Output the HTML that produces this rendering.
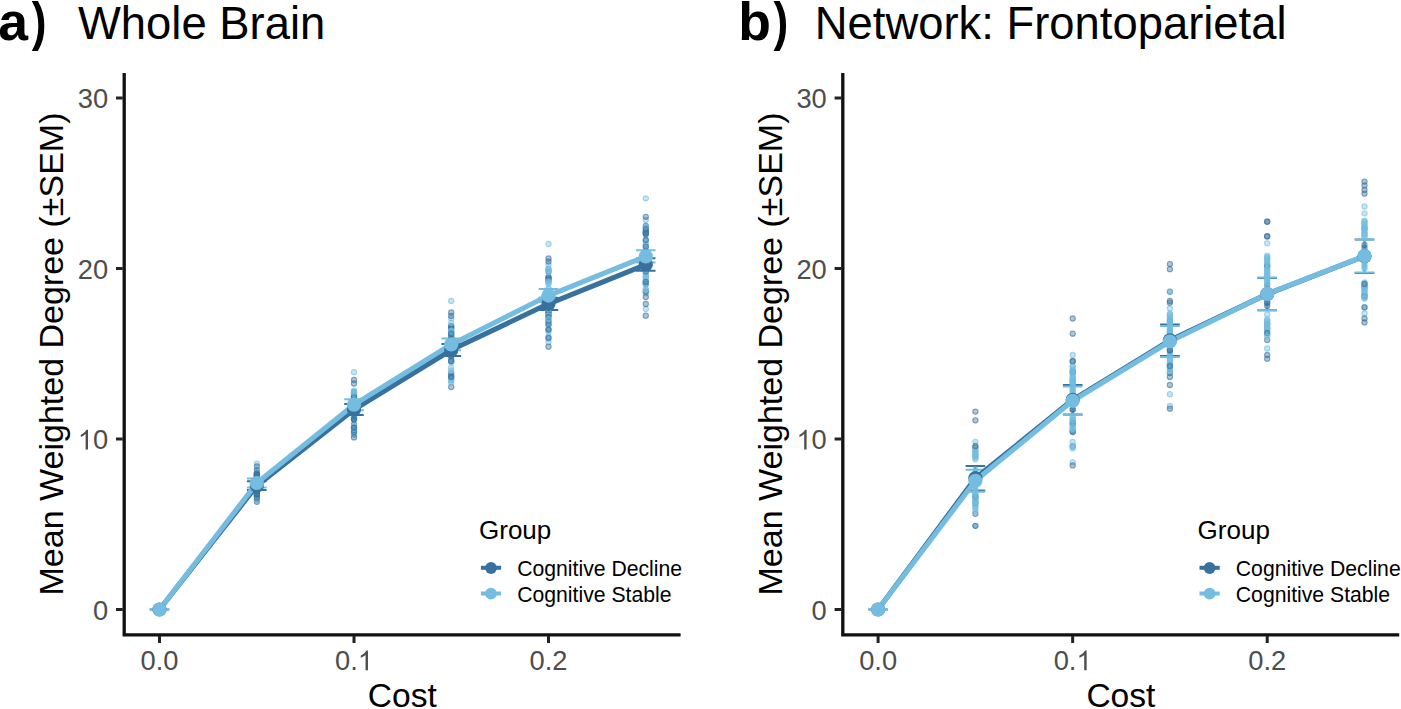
<!DOCTYPE html>
<html><head><meta charset="utf-8"><title>Figure</title>
<style>html,body{margin:0;padding:0;background:#fff;overflow:hidden}svg{display:block}text{font-family:"Liberation Sans",sans-serif}</style>
</head><body>
<svg width="1401" height="709" viewBox="0 0 1401 709">
<rect width="1401" height="709" fill="#ffffff"/>
<g>
<text x="-1.80" y="40.4" font-family="Liberation Sans, sans-serif" font-size="53.5" font-weight="bold" fill="#000">a</text>
<text transform="translate(44.9 0) scale(0.83 1) translate(-44.9 0)" x="28.95" y="40.4" font-family="Liberation Sans, sans-serif" font-size="53.5" font-weight="bold" fill="#000">)</text>
<text x="78.0" y="39.3" font-family="Liberation Sans, sans-serif" font-size="45.4" fill="#000">Whole Brain</text>
<path d="M149.7 609.5H169.3M149.7 609.5H169.3M159.5 609.5V609.5" stroke="#38719D" stroke-width="2" fill="none"/>
<path d="M246.9 481.3H266.6M246.9 490.1H266.6M256.8 481.3V490.1" stroke="#38719D" stroke-width="2" fill="none"/>
<path d="M344.2 404.0H363.8M344.2 415.0H363.8M354.0 404.0V415.0" stroke="#38719D" stroke-width="2" fill="none"/>
<path d="M441.4 344.0H461.1M441.4 356.0H461.1M451.2 344.0V356.0" stroke="#38719D" stroke-width="2" fill="none"/>
<path d="M538.7 297.7H558.3M538.7 309.9H558.3M548.5 297.7V309.9" stroke="#38719D" stroke-width="2" fill="none"/>
<path d="M636.0 258.3H655.5M636.0 270.8H655.5M645.8 258.3V270.8" stroke="#38719D" stroke-width="2" fill="none"/>
<path d="M149.7 609.5H169.3M149.7 609.5H169.3M159.5 609.5V609.5" stroke="#74BDE0" stroke-width="2" fill="none"/>
<path d="M246.9 478.6H266.6M246.9 487.4H266.6M256.8 478.6V487.4" stroke="#74BDE0" stroke-width="2" fill="none"/>
<path d="M344.2 399.3H363.8M344.2 410.2H363.8M354.0 399.3V410.2" stroke="#74BDE0" stroke-width="2" fill="none"/>
<path d="M441.4 338.4H461.1M441.4 350.3H461.1M451.2 338.4V350.3" stroke="#74BDE0" stroke-width="2" fill="none"/>
<path d="M538.7 289.1H558.3M538.7 302.1H558.3M548.5 289.1V302.1" stroke="#74BDE0" stroke-width="2" fill="none"/>
<path d="M636.0 250.3H655.5M636.0 262.5H655.5M645.8 250.3V262.5" stroke="#74BDE0" stroke-width="2" fill="none"/>
<g stroke-width="1.05">
<circle cx="256.8" cy="475.8" r="2.62" fill="#38719D" fill-opacity="0.4" stroke="#38719D" stroke-opacity="0.62"/>
<circle cx="256.8" cy="487.7" r="2.62" fill="#38719D" fill-opacity="0.4" stroke="#38719D" stroke-opacity="0.62"/>
<circle cx="256.8" cy="478.8" r="2.62" fill="#38719D" fill-opacity="0.4" stroke="#38719D" stroke-opacity="0.62"/>
<circle cx="256.8" cy="481.3" r="2.62" fill="#74BDE0" fill-opacity="0.4" stroke="#74BDE0" stroke-opacity="0.62"/>
<circle cx="256.8" cy="474.9" r="2.62" fill="#74BDE0" fill-opacity="0.4" stroke="#74BDE0" stroke-opacity="0.62"/>
<circle cx="256.8" cy="501.8" r="2.62" fill="#38719D" fill-opacity="0.4" stroke="#38719D" stroke-opacity="0.62"/>
<circle cx="256.8" cy="488.9" r="2.62" fill="#74BDE0" fill-opacity="0.4" stroke="#74BDE0" stroke-opacity="0.62"/>
<circle cx="256.8" cy="482.0" r="2.62" fill="#74BDE0" fill-opacity="0.4" stroke="#74BDE0" stroke-opacity="0.62"/>
<circle cx="256.8" cy="482.0" r="2.62" fill="#38719D" fill-opacity="0.4" stroke="#38719D" stroke-opacity="0.62"/>
<circle cx="256.8" cy="477.8" r="2.62" fill="#74BDE0" fill-opacity="0.4" stroke="#74BDE0" stroke-opacity="0.62"/>
<circle cx="256.8" cy="477.1" r="2.62" fill="#38719D" fill-opacity="0.4" stroke="#38719D" stroke-opacity="0.62"/>
<circle cx="256.8" cy="477.5" r="2.62" fill="#74BDE0" fill-opacity="0.4" stroke="#74BDE0" stroke-opacity="0.62"/>
<circle cx="256.8" cy="479.0" r="2.62" fill="#74BDE0" fill-opacity="0.4" stroke="#74BDE0" stroke-opacity="0.62"/>
<circle cx="256.8" cy="474.8" r="2.62" fill="#38719D" fill-opacity="0.4" stroke="#38719D" stroke-opacity="0.62"/>
<circle cx="256.8" cy="476.2" r="2.62" fill="#38719D" fill-opacity="0.4" stroke="#38719D" stroke-opacity="0.62"/>
<circle cx="256.8" cy="499.4" r="2.62" fill="#38719D" fill-opacity="0.4" stroke="#38719D" stroke-opacity="0.62"/>
<circle cx="256.8" cy="493.8" r="2.62" fill="#38719D" fill-opacity="0.4" stroke="#38719D" stroke-opacity="0.62"/>
<circle cx="256.8" cy="488.0" r="2.62" fill="#74BDE0" fill-opacity="0.4" stroke="#74BDE0" stroke-opacity="0.62"/>
<circle cx="256.8" cy="495.5" r="2.62" fill="#74BDE0" fill-opacity="0.4" stroke="#74BDE0" stroke-opacity="0.62"/>
<circle cx="256.8" cy="484.6" r="2.62" fill="#38719D" fill-opacity="0.4" stroke="#38719D" stroke-opacity="0.62"/>
<circle cx="256.8" cy="491.9" r="2.62" fill="#74BDE0" fill-opacity="0.4" stroke="#74BDE0" stroke-opacity="0.62"/>
<circle cx="256.8" cy="491.9" r="2.62" fill="#74BDE0" fill-opacity="0.4" stroke="#74BDE0" stroke-opacity="0.62"/>
<circle cx="256.8" cy="472.7" r="2.62" fill="#74BDE0" fill-opacity="0.4" stroke="#74BDE0" stroke-opacity="0.62"/>
<circle cx="256.8" cy="480.6" r="2.62" fill="#38719D" fill-opacity="0.4" stroke="#38719D" stroke-opacity="0.62"/>
<circle cx="256.8" cy="470.1" r="2.62" fill="#38719D" fill-opacity="0.4" stroke="#38719D" stroke-opacity="0.62"/>
<circle cx="256.8" cy="474.7" r="2.62" fill="#74BDE0" fill-opacity="0.4" stroke="#74BDE0" stroke-opacity="0.62"/>
<circle cx="256.8" cy="495.4" r="2.62" fill="#38719D" fill-opacity="0.4" stroke="#38719D" stroke-opacity="0.62"/>
<circle cx="256.8" cy="473.8" r="2.62" fill="#38719D" fill-opacity="0.4" stroke="#38719D" stroke-opacity="0.62"/>
<circle cx="256.8" cy="478.7" r="2.62" fill="#38719D" fill-opacity="0.4" stroke="#38719D" stroke-opacity="0.62"/>
<circle cx="256.8" cy="463.6" r="2.62" fill="#74BDE0" fill-opacity="0.4" stroke="#74BDE0" stroke-opacity="0.62"/>
<circle cx="256.8" cy="473.1" r="2.62" fill="#74BDE0" fill-opacity="0.4" stroke="#74BDE0" stroke-opacity="0.62"/>
<circle cx="256.8" cy="488.8" r="2.62" fill="#74BDE0" fill-opacity="0.4" stroke="#74BDE0" stroke-opacity="0.62"/>
<circle cx="256.8" cy="483.3" r="2.62" fill="#38719D" fill-opacity="0.4" stroke="#38719D" stroke-opacity="0.62"/>
<circle cx="256.8" cy="480.2" r="2.62" fill="#38719D" fill-opacity="0.4" stroke="#38719D" stroke-opacity="0.62"/>
<circle cx="256.8" cy="491.8" r="2.62" fill="#74BDE0" fill-opacity="0.4" stroke="#74BDE0" stroke-opacity="0.62"/>
<circle cx="256.8" cy="485.2" r="2.62" fill="#38719D" fill-opacity="0.4" stroke="#38719D" stroke-opacity="0.62"/>
<circle cx="256.8" cy="479.8" r="2.62" fill="#74BDE0" fill-opacity="0.4" stroke="#74BDE0" stroke-opacity="0.62"/>
<circle cx="256.8" cy="485.4" r="2.62" fill="#74BDE0" fill-opacity="0.4" stroke="#74BDE0" stroke-opacity="0.62"/>
<circle cx="256.8" cy="488.3" r="2.62" fill="#38719D" fill-opacity="0.4" stroke="#38719D" stroke-opacity="0.62"/>
<circle cx="256.8" cy="485.6" r="2.62" fill="#38719D" fill-opacity="0.4" stroke="#38719D" stroke-opacity="0.62"/>
<circle cx="256.8" cy="489.3" r="2.62" fill="#74BDE0" fill-opacity="0.4" stroke="#74BDE0" stroke-opacity="0.62"/>
<circle cx="256.8" cy="500.0" r="2.62" fill="#74BDE0" fill-opacity="0.4" stroke="#74BDE0" stroke-opacity="0.62"/>
<circle cx="256.8" cy="481.8" r="2.62" fill="#74BDE0" fill-opacity="0.4" stroke="#74BDE0" stroke-opacity="0.62"/>
<circle cx="256.8" cy="478.6" r="2.62" fill="#74BDE0" fill-opacity="0.4" stroke="#74BDE0" stroke-opacity="0.62"/>
<circle cx="256.8" cy="487.7" r="2.62" fill="#38719D" fill-opacity="0.4" stroke="#38719D" stroke-opacity="0.62"/>
<circle cx="256.8" cy="480.5" r="2.62" fill="#74BDE0" fill-opacity="0.4" stroke="#74BDE0" stroke-opacity="0.62"/>
<circle cx="256.8" cy="493.4" r="2.62" fill="#38719D" fill-opacity="0.4" stroke="#38719D" stroke-opacity="0.62"/>
<circle cx="256.8" cy="479.4" r="2.62" fill="#38719D" fill-opacity="0.4" stroke="#38719D" stroke-opacity="0.62"/>
<circle cx="256.8" cy="496.0" r="2.62" fill="#74BDE0" fill-opacity="0.4" stroke="#74BDE0" stroke-opacity="0.62"/>
<circle cx="256.8" cy="490.6" r="2.62" fill="#74BDE0" fill-opacity="0.4" stroke="#74BDE0" stroke-opacity="0.62"/>
<circle cx="256.8" cy="494.2" r="2.62" fill="#38719D" fill-opacity="0.4" stroke="#38719D" stroke-opacity="0.62"/>
<circle cx="256.8" cy="497.4" r="2.62" fill="#38719D" fill-opacity="0.4" stroke="#38719D" stroke-opacity="0.62"/>
<circle cx="256.8" cy="479.8" r="2.62" fill="#74BDE0" fill-opacity="0.4" stroke="#74BDE0" stroke-opacity="0.62"/>
<circle cx="256.8" cy="477.0" r="2.62" fill="#74BDE0" fill-opacity="0.4" stroke="#74BDE0" stroke-opacity="0.62"/>
<circle cx="256.8" cy="494.7" r="2.62" fill="#38719D" fill-opacity="0.4" stroke="#38719D" stroke-opacity="0.62"/>
<circle cx="256.8" cy="466.5" r="2.62" fill="#38719D" fill-opacity="0.4" stroke="#38719D" stroke-opacity="0.62"/>
<circle cx="256.8" cy="475.0" r="2.62" fill="#38719D" fill-opacity="0.4" stroke="#38719D" stroke-opacity="0.62"/>
<circle cx="256.8" cy="474.8" r="2.62" fill="#38719D" fill-opacity="0.4" stroke="#38719D" stroke-opacity="0.62"/>
<circle cx="256.8" cy="473.4" r="2.62" fill="#38719D" fill-opacity="0.4" stroke="#38719D" stroke-opacity="0.62"/>
<circle cx="256.8" cy="490.9" r="2.62" fill="#38719D" fill-opacity="0.4" stroke="#38719D" stroke-opacity="0.62"/>
<circle cx="354.0" cy="393.7" r="2.62" fill="#74BDE0" fill-opacity="0.4" stroke="#74BDE0" stroke-opacity="0.62"/>
<circle cx="354.0" cy="392.2" r="2.62" fill="#38719D" fill-opacity="0.4" stroke="#38719D" stroke-opacity="0.62"/>
<circle cx="354.0" cy="410.5" r="2.62" fill="#38719D" fill-opacity="0.4" stroke="#38719D" stroke-opacity="0.62"/>
<circle cx="354.0" cy="397.5" r="2.62" fill="#38719D" fill-opacity="0.4" stroke="#38719D" stroke-opacity="0.62"/>
<circle cx="354.0" cy="431.4" r="2.62" fill="#74BDE0" fill-opacity="0.4" stroke="#74BDE0" stroke-opacity="0.62"/>
<circle cx="354.0" cy="407.0" r="2.62" fill="#74BDE0" fill-opacity="0.4" stroke="#74BDE0" stroke-opacity="0.62"/>
<circle cx="354.0" cy="424.4" r="2.62" fill="#38719D" fill-opacity="0.4" stroke="#38719D" stroke-opacity="0.62"/>
<circle cx="354.0" cy="411.5" r="2.62" fill="#74BDE0" fill-opacity="0.4" stroke="#74BDE0" stroke-opacity="0.62"/>
<circle cx="354.0" cy="427.0" r="2.62" fill="#74BDE0" fill-opacity="0.4" stroke="#74BDE0" stroke-opacity="0.62"/>
<circle cx="354.0" cy="434.0" r="2.62" fill="#74BDE0" fill-opacity="0.4" stroke="#74BDE0" stroke-opacity="0.62"/>
<circle cx="354.0" cy="395.0" r="2.62" fill="#74BDE0" fill-opacity="0.4" stroke="#74BDE0" stroke-opacity="0.62"/>
<circle cx="354.0" cy="409.2" r="2.62" fill="#38719D" fill-opacity="0.4" stroke="#38719D" stroke-opacity="0.62"/>
<circle cx="354.0" cy="397.3" r="2.62" fill="#74BDE0" fill-opacity="0.4" stroke="#74BDE0" stroke-opacity="0.62"/>
<circle cx="354.0" cy="418.8" r="2.62" fill="#74BDE0" fill-opacity="0.4" stroke="#74BDE0" stroke-opacity="0.62"/>
<circle cx="354.0" cy="405.2" r="2.62" fill="#74BDE0" fill-opacity="0.4" stroke="#74BDE0" stroke-opacity="0.62"/>
<circle cx="354.0" cy="415.9" r="2.62" fill="#38719D" fill-opacity="0.4" stroke="#38719D" stroke-opacity="0.62"/>
<circle cx="354.0" cy="408.6" r="2.62" fill="#74BDE0" fill-opacity="0.4" stroke="#74BDE0" stroke-opacity="0.62"/>
<circle cx="354.0" cy="434.8" r="2.62" fill="#74BDE0" fill-opacity="0.4" stroke="#74BDE0" stroke-opacity="0.62"/>
<circle cx="354.0" cy="412.2" r="2.62" fill="#38719D" fill-opacity="0.4" stroke="#38719D" stroke-opacity="0.62"/>
<circle cx="354.0" cy="409.6" r="2.62" fill="#38719D" fill-opacity="0.4" stroke="#38719D" stroke-opacity="0.62"/>
<circle cx="354.0" cy="392.9" r="2.62" fill="#74BDE0" fill-opacity="0.4" stroke="#74BDE0" stroke-opacity="0.62"/>
<circle cx="354.0" cy="392.5" r="2.62" fill="#74BDE0" fill-opacity="0.4" stroke="#74BDE0" stroke-opacity="0.62"/>
<circle cx="354.0" cy="417.6" r="2.62" fill="#38719D" fill-opacity="0.4" stroke="#38719D" stroke-opacity="0.62"/>
<circle cx="354.0" cy="396.3" r="2.62" fill="#38719D" fill-opacity="0.4" stroke="#38719D" stroke-opacity="0.62"/>
<circle cx="354.0" cy="406.6" r="2.62" fill="#38719D" fill-opacity="0.4" stroke="#38719D" stroke-opacity="0.62"/>
<circle cx="354.0" cy="417.6" r="2.62" fill="#38719D" fill-opacity="0.4" stroke="#38719D" stroke-opacity="0.62"/>
<circle cx="354.0" cy="394.5" r="2.62" fill="#74BDE0" fill-opacity="0.4" stroke="#74BDE0" stroke-opacity="0.62"/>
<circle cx="354.0" cy="418.1" r="2.62" fill="#38719D" fill-opacity="0.4" stroke="#38719D" stroke-opacity="0.62"/>
<circle cx="354.0" cy="434.0" r="2.62" fill="#74BDE0" fill-opacity="0.4" stroke="#74BDE0" stroke-opacity="0.62"/>
<circle cx="354.0" cy="429.8" r="2.62" fill="#38719D" fill-opacity="0.4" stroke="#38719D" stroke-opacity="0.62"/>
<circle cx="354.0" cy="401.2" r="2.62" fill="#74BDE0" fill-opacity="0.4" stroke="#74BDE0" stroke-opacity="0.62"/>
<circle cx="354.0" cy="407.9" r="2.62" fill="#38719D" fill-opacity="0.4" stroke="#38719D" stroke-opacity="0.62"/>
<circle cx="354.0" cy="425.9" r="2.62" fill="#74BDE0" fill-opacity="0.4" stroke="#74BDE0" stroke-opacity="0.62"/>
<circle cx="354.0" cy="413.6" r="2.62" fill="#38719D" fill-opacity="0.4" stroke="#38719D" stroke-opacity="0.62"/>
<circle cx="354.0" cy="383.5" r="2.62" fill="#38719D" fill-opacity="0.4" stroke="#38719D" stroke-opacity="0.62"/>
<circle cx="354.0" cy="417.8" r="2.62" fill="#74BDE0" fill-opacity="0.4" stroke="#74BDE0" stroke-opacity="0.62"/>
<circle cx="354.0" cy="401.5" r="2.62" fill="#74BDE0" fill-opacity="0.4" stroke="#74BDE0" stroke-opacity="0.62"/>
<circle cx="354.0" cy="416.2" r="2.62" fill="#38719D" fill-opacity="0.4" stroke="#38719D" stroke-opacity="0.62"/>
<circle cx="354.0" cy="402.4" r="2.62" fill="#38719D" fill-opacity="0.4" stroke="#38719D" stroke-opacity="0.62"/>
<circle cx="354.0" cy="417.8" r="2.62" fill="#74BDE0" fill-opacity="0.4" stroke="#74BDE0" stroke-opacity="0.62"/>
<circle cx="354.0" cy="372.2" r="2.62" fill="#74BDE0" fill-opacity="0.4" stroke="#74BDE0" stroke-opacity="0.62"/>
<circle cx="354.0" cy="399.4" r="2.62" fill="#74BDE0" fill-opacity="0.4" stroke="#74BDE0" stroke-opacity="0.62"/>
<circle cx="354.0" cy="394.0" r="2.62" fill="#74BDE0" fill-opacity="0.4" stroke="#74BDE0" stroke-opacity="0.62"/>
<circle cx="354.0" cy="410.4" r="2.62" fill="#38719D" fill-opacity="0.4" stroke="#38719D" stroke-opacity="0.62"/>
<circle cx="354.0" cy="404.8" r="2.62" fill="#38719D" fill-opacity="0.4" stroke="#38719D" stroke-opacity="0.62"/>
<circle cx="354.0" cy="409.5" r="2.62" fill="#38719D" fill-opacity="0.4" stroke="#38719D" stroke-opacity="0.62"/>
<circle cx="354.0" cy="431.9" r="2.62" fill="#38719D" fill-opacity="0.4" stroke="#38719D" stroke-opacity="0.62"/>
<circle cx="354.0" cy="380.0" r="2.62" fill="#38719D" fill-opacity="0.4" stroke="#38719D" stroke-opacity="0.62"/>
<circle cx="354.0" cy="411.7" r="2.62" fill="#38719D" fill-opacity="0.4" stroke="#38719D" stroke-opacity="0.62"/>
<circle cx="354.0" cy="428.0" r="2.62" fill="#38719D" fill-opacity="0.4" stroke="#38719D" stroke-opacity="0.62"/>
<circle cx="354.0" cy="399.8" r="2.62" fill="#74BDE0" fill-opacity="0.4" stroke="#74BDE0" stroke-opacity="0.62"/>
<circle cx="354.0" cy="396.7" r="2.62" fill="#38719D" fill-opacity="0.4" stroke="#38719D" stroke-opacity="0.62"/>
<circle cx="354.0" cy="437.4" r="2.62" fill="#38719D" fill-opacity="0.4" stroke="#38719D" stroke-opacity="0.62"/>
<circle cx="354.0" cy="418.9" r="2.62" fill="#38719D" fill-opacity="0.4" stroke="#38719D" stroke-opacity="0.62"/>
<circle cx="354.0" cy="413.2" r="2.62" fill="#74BDE0" fill-opacity="0.4" stroke="#74BDE0" stroke-opacity="0.62"/>
<circle cx="354.0" cy="390.7" r="2.62" fill="#74BDE0" fill-opacity="0.4" stroke="#74BDE0" stroke-opacity="0.62"/>
<circle cx="354.0" cy="419.8" r="2.62" fill="#38719D" fill-opacity="0.4" stroke="#38719D" stroke-opacity="0.62"/>
<circle cx="354.0" cy="428.8" r="2.62" fill="#74BDE0" fill-opacity="0.4" stroke="#74BDE0" stroke-opacity="0.62"/>
<circle cx="354.0" cy="427.7" r="2.62" fill="#38719D" fill-opacity="0.4" stroke="#38719D" stroke-opacity="0.62"/>
<circle cx="354.0" cy="392.0" r="2.62" fill="#74BDE0" fill-opacity="0.4" stroke="#74BDE0" stroke-opacity="0.62"/>
<circle cx="354.0" cy="401.2" r="2.62" fill="#38719D" fill-opacity="0.4" stroke="#38719D" stroke-opacity="0.62"/>
<circle cx="451.2" cy="344.4" r="2.62" fill="#38719D" fill-opacity="0.4" stroke="#38719D" stroke-opacity="0.62"/>
<circle cx="451.2" cy="348.8" r="2.62" fill="#74BDE0" fill-opacity="0.4" stroke="#74BDE0" stroke-opacity="0.62"/>
<circle cx="451.2" cy="346.7" r="2.62" fill="#74BDE0" fill-opacity="0.4" stroke="#74BDE0" stroke-opacity="0.62"/>
<circle cx="451.2" cy="378.8" r="2.62" fill="#74BDE0" fill-opacity="0.4" stroke="#74BDE0" stroke-opacity="0.62"/>
<circle cx="451.2" cy="350.4" r="2.62" fill="#74BDE0" fill-opacity="0.4" stroke="#74BDE0" stroke-opacity="0.62"/>
<circle cx="451.2" cy="346.3" r="2.62" fill="#38719D" fill-opacity="0.4" stroke="#38719D" stroke-opacity="0.62"/>
<circle cx="451.2" cy="336.9" r="2.62" fill="#74BDE0" fill-opacity="0.4" stroke="#74BDE0" stroke-opacity="0.62"/>
<circle cx="451.2" cy="350.7" r="2.62" fill="#38719D" fill-opacity="0.4" stroke="#38719D" stroke-opacity="0.62"/>
<circle cx="451.2" cy="333.8" r="2.62" fill="#38719D" fill-opacity="0.4" stroke="#38719D" stroke-opacity="0.62"/>
<circle cx="451.2" cy="325.9" r="2.62" fill="#74BDE0" fill-opacity="0.4" stroke="#74BDE0" stroke-opacity="0.62"/>
<circle cx="451.2" cy="351.3" r="2.62" fill="#38719D" fill-opacity="0.4" stroke="#38719D" stroke-opacity="0.62"/>
<circle cx="451.2" cy="359.1" r="2.62" fill="#74BDE0" fill-opacity="0.4" stroke="#74BDE0" stroke-opacity="0.62"/>
<circle cx="451.2" cy="347.2" r="2.62" fill="#38719D" fill-opacity="0.4" stroke="#38719D" stroke-opacity="0.62"/>
<circle cx="451.2" cy="359.4" r="2.62" fill="#74BDE0" fill-opacity="0.4" stroke="#74BDE0" stroke-opacity="0.62"/>
<circle cx="451.2" cy="335.6" r="2.62" fill="#38719D" fill-opacity="0.4" stroke="#38719D" stroke-opacity="0.62"/>
<circle cx="451.2" cy="325.9" r="2.62" fill="#74BDE0" fill-opacity="0.4" stroke="#74BDE0" stroke-opacity="0.62"/>
<circle cx="451.2" cy="347.9" r="2.62" fill="#74BDE0" fill-opacity="0.4" stroke="#74BDE0" stroke-opacity="0.62"/>
<circle cx="451.2" cy="328.2" r="2.62" fill="#38719D" fill-opacity="0.4" stroke="#38719D" stroke-opacity="0.62"/>
<circle cx="451.2" cy="318.5" r="2.62" fill="#74BDE0" fill-opacity="0.4" stroke="#74BDE0" stroke-opacity="0.62"/>
<circle cx="451.2" cy="375.6" r="2.62" fill="#74BDE0" fill-opacity="0.4" stroke="#74BDE0" stroke-opacity="0.62"/>
<circle cx="451.2" cy="312.5" r="2.62" fill="#38719D" fill-opacity="0.4" stroke="#38719D" stroke-opacity="0.62"/>
<circle cx="451.2" cy="348.5" r="2.62" fill="#74BDE0" fill-opacity="0.4" stroke="#74BDE0" stroke-opacity="0.62"/>
<circle cx="451.2" cy="345.9" r="2.62" fill="#74BDE0" fill-opacity="0.4" stroke="#74BDE0" stroke-opacity="0.62"/>
<circle cx="451.2" cy="326.3" r="2.62" fill="#38719D" fill-opacity="0.4" stroke="#38719D" stroke-opacity="0.62"/>
<circle cx="451.2" cy="380.2" r="2.62" fill="#74BDE0" fill-opacity="0.4" stroke="#74BDE0" stroke-opacity="0.62"/>
<circle cx="451.2" cy="376.3" r="2.62" fill="#38719D" fill-opacity="0.4" stroke="#38719D" stroke-opacity="0.62"/>
<circle cx="451.2" cy="331.2" r="2.62" fill="#74BDE0" fill-opacity="0.4" stroke="#74BDE0" stroke-opacity="0.62"/>
<circle cx="451.2" cy="355.0" r="2.62" fill="#74BDE0" fill-opacity="0.4" stroke="#74BDE0" stroke-opacity="0.62"/>
<circle cx="451.2" cy="329.1" r="2.62" fill="#38719D" fill-opacity="0.4" stroke="#38719D" stroke-opacity="0.62"/>
<circle cx="451.2" cy="340.9" r="2.62" fill="#74BDE0" fill-opacity="0.4" stroke="#74BDE0" stroke-opacity="0.62"/>
<circle cx="451.2" cy="332.8" r="2.62" fill="#74BDE0" fill-opacity="0.4" stroke="#74BDE0" stroke-opacity="0.62"/>
<circle cx="451.2" cy="360.9" r="2.62" fill="#38719D" fill-opacity="0.4" stroke="#38719D" stroke-opacity="0.62"/>
<circle cx="451.2" cy="387.0" r="2.62" fill="#38719D" fill-opacity="0.4" stroke="#38719D" stroke-opacity="0.62"/>
<circle cx="451.2" cy="347.8" r="2.62" fill="#74BDE0" fill-opacity="0.4" stroke="#74BDE0" stroke-opacity="0.62"/>
<circle cx="451.2" cy="362.3" r="2.62" fill="#74BDE0" fill-opacity="0.4" stroke="#74BDE0" stroke-opacity="0.62"/>
<circle cx="451.2" cy="344.6" r="2.62" fill="#74BDE0" fill-opacity="0.4" stroke="#74BDE0" stroke-opacity="0.62"/>
<circle cx="451.2" cy="373.2" r="2.62" fill="#38719D" fill-opacity="0.4" stroke="#38719D" stroke-opacity="0.62"/>
<circle cx="451.2" cy="354.5" r="2.62" fill="#74BDE0" fill-opacity="0.4" stroke="#74BDE0" stroke-opacity="0.62"/>
<circle cx="451.2" cy="350.4" r="2.62" fill="#74BDE0" fill-opacity="0.4" stroke="#74BDE0" stroke-opacity="0.62"/>
<circle cx="451.2" cy="361.2" r="2.62" fill="#38719D" fill-opacity="0.4" stroke="#38719D" stroke-opacity="0.62"/>
<circle cx="451.2" cy="340.9" r="2.62" fill="#74BDE0" fill-opacity="0.4" stroke="#74BDE0" stroke-opacity="0.62"/>
<circle cx="451.2" cy="316.0" r="2.62" fill="#38719D" fill-opacity="0.4" stroke="#38719D" stroke-opacity="0.62"/>
<circle cx="451.2" cy="338.6" r="2.62" fill="#74BDE0" fill-opacity="0.4" stroke="#74BDE0" stroke-opacity="0.62"/>
<circle cx="451.2" cy="339.0" r="2.62" fill="#74BDE0" fill-opacity="0.4" stroke="#74BDE0" stroke-opacity="0.62"/>
<circle cx="451.2" cy="370.3" r="2.62" fill="#74BDE0" fill-opacity="0.4" stroke="#74BDE0" stroke-opacity="0.62"/>
<circle cx="451.2" cy="341.2" r="2.62" fill="#74BDE0" fill-opacity="0.4" stroke="#74BDE0" stroke-opacity="0.62"/>
<circle cx="451.2" cy="331.6" r="2.62" fill="#74BDE0" fill-opacity="0.4" stroke="#74BDE0" stroke-opacity="0.62"/>
<circle cx="451.2" cy="380.7" r="2.62" fill="#74BDE0" fill-opacity="0.4" stroke="#74BDE0" stroke-opacity="0.62"/>
<circle cx="451.2" cy="355.8" r="2.62" fill="#38719D" fill-opacity="0.4" stroke="#38719D" stroke-opacity="0.62"/>
<circle cx="451.2" cy="330.7" r="2.62" fill="#74BDE0" fill-opacity="0.4" stroke="#74BDE0" stroke-opacity="0.62"/>
<circle cx="451.2" cy="322.8" r="2.62" fill="#74BDE0" fill-opacity="0.4" stroke="#74BDE0" stroke-opacity="0.62"/>
<circle cx="451.2" cy="349.8" r="2.62" fill="#74BDE0" fill-opacity="0.4" stroke="#74BDE0" stroke-opacity="0.62"/>
<circle cx="451.2" cy="301.0" r="2.62" fill="#74BDE0" fill-opacity="0.4" stroke="#74BDE0" stroke-opacity="0.62"/>
<circle cx="451.2" cy="383.0" r="2.62" fill="#74BDE0" fill-opacity="0.4" stroke="#74BDE0" stroke-opacity="0.62"/>
<circle cx="451.2" cy="332.1" r="2.62" fill="#74BDE0" fill-opacity="0.4" stroke="#74BDE0" stroke-opacity="0.62"/>
<circle cx="451.2" cy="338.8" r="2.62" fill="#38719D" fill-opacity="0.4" stroke="#38719D" stroke-opacity="0.62"/>
<circle cx="451.2" cy="341.6" r="2.62" fill="#38719D" fill-opacity="0.4" stroke="#38719D" stroke-opacity="0.62"/>
<circle cx="451.2" cy="333.5" r="2.62" fill="#38719D" fill-opacity="0.4" stroke="#38719D" stroke-opacity="0.62"/>
<circle cx="451.2" cy="355.7" r="2.62" fill="#38719D" fill-opacity="0.4" stroke="#38719D" stroke-opacity="0.62"/>
<circle cx="451.2" cy="338.7" r="2.62" fill="#38719D" fill-opacity="0.4" stroke="#38719D" stroke-opacity="0.62"/>
<circle cx="451.2" cy="367.7" r="2.62" fill="#74BDE0" fill-opacity="0.4" stroke="#74BDE0" stroke-opacity="0.62"/>
<circle cx="451.2" cy="377.1" r="2.62" fill="#38719D" fill-opacity="0.4" stroke="#38719D" stroke-opacity="0.62"/>
<circle cx="548.5" cy="314.3" r="2.62" fill="#74BDE0" fill-opacity="0.4" stroke="#74BDE0" stroke-opacity="0.62"/>
<circle cx="548.5" cy="268.7" r="2.62" fill="#74BDE0" fill-opacity="0.4" stroke="#74BDE0" stroke-opacity="0.62"/>
<circle cx="548.5" cy="289.0" r="2.62" fill="#74BDE0" fill-opacity="0.4" stroke="#74BDE0" stroke-opacity="0.62"/>
<circle cx="548.5" cy="295.9" r="2.62" fill="#74BDE0" fill-opacity="0.4" stroke="#74BDE0" stroke-opacity="0.62"/>
<circle cx="548.5" cy="313.4" r="2.62" fill="#74BDE0" fill-opacity="0.4" stroke="#74BDE0" stroke-opacity="0.62"/>
<circle cx="548.5" cy="264.5" r="2.62" fill="#74BDE0" fill-opacity="0.4" stroke="#74BDE0" stroke-opacity="0.62"/>
<circle cx="548.5" cy="292.8" r="2.62" fill="#38719D" fill-opacity="0.4" stroke="#38719D" stroke-opacity="0.62"/>
<circle cx="548.5" cy="329.1" r="2.62" fill="#38719D" fill-opacity="0.4" stroke="#38719D" stroke-opacity="0.62"/>
<circle cx="548.5" cy="299.0" r="2.62" fill="#38719D" fill-opacity="0.4" stroke="#38719D" stroke-opacity="0.62"/>
<circle cx="548.5" cy="315.8" r="2.62" fill="#38719D" fill-opacity="0.4" stroke="#38719D" stroke-opacity="0.62"/>
<circle cx="548.5" cy="310.9" r="2.62" fill="#38719D" fill-opacity="0.4" stroke="#38719D" stroke-opacity="0.62"/>
<circle cx="548.5" cy="299.5" r="2.62" fill="#74BDE0" fill-opacity="0.4" stroke="#74BDE0" stroke-opacity="0.62"/>
<circle cx="548.5" cy="319.3" r="2.62" fill="#74BDE0" fill-opacity="0.4" stroke="#74BDE0" stroke-opacity="0.62"/>
<circle cx="548.5" cy="291.7" r="2.62" fill="#38719D" fill-opacity="0.4" stroke="#38719D" stroke-opacity="0.62"/>
<circle cx="548.5" cy="277.4" r="2.62" fill="#38719D" fill-opacity="0.4" stroke="#38719D" stroke-opacity="0.62"/>
<circle cx="548.5" cy="325.3" r="2.62" fill="#74BDE0" fill-opacity="0.4" stroke="#74BDE0" stroke-opacity="0.62"/>
<circle cx="548.5" cy="271.6" r="2.62" fill="#38719D" fill-opacity="0.4" stroke="#38719D" stroke-opacity="0.62"/>
<circle cx="548.5" cy="244.0" r="2.62" fill="#74BDE0" fill-opacity="0.4" stroke="#74BDE0" stroke-opacity="0.62"/>
<circle cx="548.5" cy="342.0" r="2.62" fill="#74BDE0" fill-opacity="0.4" stroke="#74BDE0" stroke-opacity="0.62"/>
<circle cx="548.5" cy="269.8" r="2.62" fill="#74BDE0" fill-opacity="0.4" stroke="#74BDE0" stroke-opacity="0.62"/>
<circle cx="548.5" cy="308.4" r="2.62" fill="#74BDE0" fill-opacity="0.4" stroke="#74BDE0" stroke-opacity="0.62"/>
<circle cx="548.5" cy="321.8" r="2.62" fill="#74BDE0" fill-opacity="0.4" stroke="#74BDE0" stroke-opacity="0.62"/>
<circle cx="548.5" cy="294.1" r="2.62" fill="#38719D" fill-opacity="0.4" stroke="#38719D" stroke-opacity="0.62"/>
<circle cx="548.5" cy="314.3" r="2.62" fill="#38719D" fill-opacity="0.4" stroke="#38719D" stroke-opacity="0.62"/>
<circle cx="548.5" cy="277.2" r="2.62" fill="#38719D" fill-opacity="0.4" stroke="#38719D" stroke-opacity="0.62"/>
<circle cx="548.5" cy="321.0" r="2.62" fill="#38719D" fill-opacity="0.4" stroke="#38719D" stroke-opacity="0.62"/>
<circle cx="548.5" cy="312.2" r="2.62" fill="#38719D" fill-opacity="0.4" stroke="#38719D" stroke-opacity="0.62"/>
<circle cx="548.5" cy="301.9" r="2.62" fill="#74BDE0" fill-opacity="0.4" stroke="#74BDE0" stroke-opacity="0.62"/>
<circle cx="548.5" cy="346.7" r="2.62" fill="#38719D" fill-opacity="0.4" stroke="#38719D" stroke-opacity="0.62"/>
<circle cx="548.5" cy="336.4" r="2.62" fill="#74BDE0" fill-opacity="0.4" stroke="#74BDE0" stroke-opacity="0.62"/>
<circle cx="548.5" cy="279.9" r="2.62" fill="#38719D" fill-opacity="0.4" stroke="#38719D" stroke-opacity="0.62"/>
<circle cx="548.5" cy="315.9" r="2.62" fill="#74BDE0" fill-opacity="0.4" stroke="#74BDE0" stroke-opacity="0.62"/>
<circle cx="548.5" cy="315.4" r="2.62" fill="#74BDE0" fill-opacity="0.4" stroke="#74BDE0" stroke-opacity="0.62"/>
<circle cx="548.5" cy="324.4" r="2.62" fill="#74BDE0" fill-opacity="0.4" stroke="#74BDE0" stroke-opacity="0.62"/>
<circle cx="548.5" cy="281.5" r="2.62" fill="#74BDE0" fill-opacity="0.4" stroke="#74BDE0" stroke-opacity="0.62"/>
<circle cx="548.5" cy="296.6" r="2.62" fill="#38719D" fill-opacity="0.4" stroke="#38719D" stroke-opacity="0.62"/>
<circle cx="548.5" cy="309.4" r="2.62" fill="#74BDE0" fill-opacity="0.4" stroke="#74BDE0" stroke-opacity="0.62"/>
<circle cx="548.5" cy="305.7" r="2.62" fill="#74BDE0" fill-opacity="0.4" stroke="#74BDE0" stroke-opacity="0.62"/>
<circle cx="548.5" cy="302.3" r="2.62" fill="#74BDE0" fill-opacity="0.4" stroke="#74BDE0" stroke-opacity="0.62"/>
<circle cx="548.5" cy="332.0" r="2.62" fill="#74BDE0" fill-opacity="0.4" stroke="#74BDE0" stroke-opacity="0.62"/>
<circle cx="548.5" cy="261.5" r="2.62" fill="#38719D" fill-opacity="0.4" stroke="#38719D" stroke-opacity="0.62"/>
<circle cx="548.5" cy="279.2" r="2.62" fill="#38719D" fill-opacity="0.4" stroke="#38719D" stroke-opacity="0.62"/>
<circle cx="548.5" cy="305.9" r="2.62" fill="#38719D" fill-opacity="0.4" stroke="#38719D" stroke-opacity="0.62"/>
<circle cx="548.5" cy="294.3" r="2.62" fill="#38719D" fill-opacity="0.4" stroke="#38719D" stroke-opacity="0.62"/>
<circle cx="548.5" cy="283.6" r="2.62" fill="#74BDE0" fill-opacity="0.4" stroke="#74BDE0" stroke-opacity="0.62"/>
<circle cx="548.5" cy="306.3" r="2.62" fill="#74BDE0" fill-opacity="0.4" stroke="#74BDE0" stroke-opacity="0.62"/>
<circle cx="548.5" cy="317.1" r="2.62" fill="#38719D" fill-opacity="0.4" stroke="#38719D" stroke-opacity="0.62"/>
<circle cx="548.5" cy="298.3" r="2.62" fill="#74BDE0" fill-opacity="0.4" stroke="#74BDE0" stroke-opacity="0.62"/>
<circle cx="548.5" cy="281.3" r="2.62" fill="#74BDE0" fill-opacity="0.4" stroke="#74BDE0" stroke-opacity="0.62"/>
<circle cx="548.5" cy="324.0" r="2.62" fill="#38719D" fill-opacity="0.4" stroke="#38719D" stroke-opacity="0.62"/>
<circle cx="548.5" cy="309.5" r="2.62" fill="#38719D" fill-opacity="0.4" stroke="#38719D" stroke-opacity="0.62"/>
<circle cx="548.5" cy="329.8" r="2.62" fill="#38719D" fill-opacity="0.4" stroke="#38719D" stroke-opacity="0.62"/>
<circle cx="548.5" cy="272.1" r="2.62" fill="#74BDE0" fill-opacity="0.4" stroke="#74BDE0" stroke-opacity="0.62"/>
<circle cx="548.5" cy="309.7" r="2.62" fill="#38719D" fill-opacity="0.4" stroke="#38719D" stroke-opacity="0.62"/>
<circle cx="548.5" cy="283.0" r="2.62" fill="#74BDE0" fill-opacity="0.4" stroke="#74BDE0" stroke-opacity="0.62"/>
<circle cx="548.5" cy="309.6" r="2.62" fill="#74BDE0" fill-opacity="0.4" stroke="#74BDE0" stroke-opacity="0.62"/>
<circle cx="548.5" cy="338.3" r="2.62" fill="#74BDE0" fill-opacity="0.4" stroke="#74BDE0" stroke-opacity="0.62"/>
<circle cx="548.5" cy="319.1" r="2.62" fill="#74BDE0" fill-opacity="0.4" stroke="#74BDE0" stroke-opacity="0.62"/>
<circle cx="548.5" cy="338.0" r="2.62" fill="#38719D" fill-opacity="0.4" stroke="#38719D" stroke-opacity="0.62"/>
<circle cx="548.5" cy="268.8" r="2.62" fill="#74BDE0" fill-opacity="0.4" stroke="#74BDE0" stroke-opacity="0.62"/>
<circle cx="548.5" cy="258.5" r="2.62" fill="#38719D" fill-opacity="0.4" stroke="#38719D" stroke-opacity="0.62"/>
<circle cx="548.5" cy="288.6" r="2.62" fill="#74BDE0" fill-opacity="0.4" stroke="#74BDE0" stroke-opacity="0.62"/>
<circle cx="548.5" cy="300.3" r="2.62" fill="#74BDE0" fill-opacity="0.4" stroke="#74BDE0" stroke-opacity="0.62"/>
<circle cx="645.8" cy="284.1" r="2.62" fill="#74BDE0" fill-opacity="0.4" stroke="#74BDE0" stroke-opacity="0.62"/>
<circle cx="645.8" cy="309.0" r="2.62" fill="#74BDE0" fill-opacity="0.4" stroke="#74BDE0" stroke-opacity="0.62"/>
<circle cx="645.8" cy="247.3" r="2.62" fill="#74BDE0" fill-opacity="0.4" stroke="#74BDE0" stroke-opacity="0.62"/>
<circle cx="645.8" cy="260.7" r="2.62" fill="#38719D" fill-opacity="0.4" stroke="#38719D" stroke-opacity="0.62"/>
<circle cx="645.8" cy="228.0" r="2.62" fill="#74BDE0" fill-opacity="0.4" stroke="#74BDE0" stroke-opacity="0.62"/>
<circle cx="645.8" cy="220.0" r="2.62" fill="#74BDE0" fill-opacity="0.4" stroke="#74BDE0" stroke-opacity="0.62"/>
<circle cx="645.8" cy="250.6" r="2.62" fill="#74BDE0" fill-opacity="0.4" stroke="#74BDE0" stroke-opacity="0.62"/>
<circle cx="645.8" cy="258.7" r="2.62" fill="#38719D" fill-opacity="0.4" stroke="#38719D" stroke-opacity="0.62"/>
<circle cx="645.8" cy="293.3" r="2.62" fill="#74BDE0" fill-opacity="0.4" stroke="#74BDE0" stroke-opacity="0.62"/>
<circle cx="645.8" cy="263.0" r="2.62" fill="#74BDE0" fill-opacity="0.4" stroke="#74BDE0" stroke-opacity="0.62"/>
<circle cx="645.8" cy="267.6" r="2.62" fill="#74BDE0" fill-opacity="0.4" stroke="#74BDE0" stroke-opacity="0.62"/>
<circle cx="645.8" cy="291.9" r="2.62" fill="#74BDE0" fill-opacity="0.4" stroke="#74BDE0" stroke-opacity="0.62"/>
<circle cx="645.8" cy="244.8" r="2.62" fill="#74BDE0" fill-opacity="0.4" stroke="#74BDE0" stroke-opacity="0.62"/>
<circle cx="645.8" cy="244.4" r="2.62" fill="#74BDE0" fill-opacity="0.4" stroke="#74BDE0" stroke-opacity="0.62"/>
<circle cx="645.8" cy="225.9" r="2.62" fill="#38719D" fill-opacity="0.4" stroke="#38719D" stroke-opacity="0.62"/>
<circle cx="645.8" cy="229.6" r="2.62" fill="#74BDE0" fill-opacity="0.4" stroke="#74BDE0" stroke-opacity="0.62"/>
<circle cx="645.8" cy="278.7" r="2.62" fill="#74BDE0" fill-opacity="0.4" stroke="#74BDE0" stroke-opacity="0.62"/>
<circle cx="645.8" cy="258.5" r="2.62" fill="#74BDE0" fill-opacity="0.4" stroke="#74BDE0" stroke-opacity="0.62"/>
<circle cx="645.8" cy="240.1" r="2.62" fill="#74BDE0" fill-opacity="0.4" stroke="#74BDE0" stroke-opacity="0.62"/>
<circle cx="645.8" cy="304.0" r="2.62" fill="#38719D" fill-opacity="0.4" stroke="#38719D" stroke-opacity="0.62"/>
<circle cx="645.8" cy="291.3" r="2.62" fill="#38719D" fill-opacity="0.4" stroke="#38719D" stroke-opacity="0.62"/>
<circle cx="645.8" cy="234.5" r="2.62" fill="#38719D" fill-opacity="0.4" stroke="#38719D" stroke-opacity="0.62"/>
<circle cx="645.8" cy="255.7" r="2.62" fill="#38719D" fill-opacity="0.4" stroke="#38719D" stroke-opacity="0.62"/>
<circle cx="645.8" cy="254.0" r="2.62" fill="#74BDE0" fill-opacity="0.4" stroke="#74BDE0" stroke-opacity="0.62"/>
<circle cx="645.8" cy="289.8" r="2.62" fill="#74BDE0" fill-opacity="0.4" stroke="#74BDE0" stroke-opacity="0.62"/>
<circle cx="645.8" cy="266.5" r="2.62" fill="#74BDE0" fill-opacity="0.4" stroke="#74BDE0" stroke-opacity="0.62"/>
<circle cx="645.8" cy="233.5" r="2.62" fill="#38719D" fill-opacity="0.4" stroke="#38719D" stroke-opacity="0.62"/>
<circle cx="645.8" cy="254.0" r="2.62" fill="#74BDE0" fill-opacity="0.4" stroke="#74BDE0" stroke-opacity="0.62"/>
<circle cx="645.8" cy="255.8" r="2.62" fill="#38719D" fill-opacity="0.4" stroke="#38719D" stroke-opacity="0.62"/>
<circle cx="645.8" cy="281.4" r="2.62" fill="#74BDE0" fill-opacity="0.4" stroke="#74BDE0" stroke-opacity="0.62"/>
<circle cx="645.8" cy="267.5" r="2.62" fill="#38719D" fill-opacity="0.4" stroke="#38719D" stroke-opacity="0.62"/>
<circle cx="645.8" cy="258.3" r="2.62" fill="#38719D" fill-opacity="0.4" stroke="#38719D" stroke-opacity="0.62"/>
<circle cx="645.8" cy="216.8" r="2.62" fill="#38719D" fill-opacity="0.4" stroke="#38719D" stroke-opacity="0.62"/>
<circle cx="645.8" cy="240.4" r="2.62" fill="#74BDE0" fill-opacity="0.4" stroke="#74BDE0" stroke-opacity="0.62"/>
<circle cx="645.8" cy="276.3" r="2.62" fill="#74BDE0" fill-opacity="0.4" stroke="#74BDE0" stroke-opacity="0.62"/>
<circle cx="645.8" cy="278.1" r="2.62" fill="#74BDE0" fill-opacity="0.4" stroke="#74BDE0" stroke-opacity="0.62"/>
<circle cx="645.8" cy="231.4" r="2.62" fill="#74BDE0" fill-opacity="0.4" stroke="#74BDE0" stroke-opacity="0.62"/>
<circle cx="645.8" cy="240.0" r="2.62" fill="#38719D" fill-opacity="0.4" stroke="#38719D" stroke-opacity="0.62"/>
<circle cx="645.8" cy="262.1" r="2.62" fill="#74BDE0" fill-opacity="0.4" stroke="#74BDE0" stroke-opacity="0.62"/>
<circle cx="645.8" cy="246.6" r="2.62" fill="#38719D" fill-opacity="0.4" stroke="#38719D" stroke-opacity="0.62"/>
<circle cx="645.8" cy="315.7" r="2.62" fill="#38719D" fill-opacity="0.4" stroke="#38719D" stroke-opacity="0.62"/>
<circle cx="645.8" cy="268.7" r="2.62" fill="#74BDE0" fill-opacity="0.4" stroke="#74BDE0" stroke-opacity="0.62"/>
<circle cx="645.8" cy="198.3" r="2.62" fill="#74BDE0" fill-opacity="0.4" stroke="#74BDE0" stroke-opacity="0.62"/>
<circle cx="645.8" cy="259.6" r="2.62" fill="#74BDE0" fill-opacity="0.4" stroke="#74BDE0" stroke-opacity="0.62"/>
<circle cx="645.8" cy="260.9" r="2.62" fill="#74BDE0" fill-opacity="0.4" stroke="#74BDE0" stroke-opacity="0.62"/>
<circle cx="645.8" cy="281.9" r="2.62" fill="#74BDE0" fill-opacity="0.4" stroke="#74BDE0" stroke-opacity="0.62"/>
<circle cx="645.8" cy="272.9" r="2.62" fill="#74BDE0" fill-opacity="0.4" stroke="#74BDE0" stroke-opacity="0.62"/>
<circle cx="645.8" cy="251.8" r="2.62" fill="#38719D" fill-opacity="0.4" stroke="#38719D" stroke-opacity="0.62"/>
<circle cx="645.8" cy="282.1" r="2.62" fill="#74BDE0" fill-opacity="0.4" stroke="#74BDE0" stroke-opacity="0.62"/>
<circle cx="645.8" cy="297.0" r="2.62" fill="#38719D" fill-opacity="0.4" stroke="#38719D" stroke-opacity="0.62"/>
<circle cx="645.8" cy="275.2" r="2.62" fill="#74BDE0" fill-opacity="0.4" stroke="#74BDE0" stroke-opacity="0.62"/>
<circle cx="645.8" cy="232.2" r="2.62" fill="#74BDE0" fill-opacity="0.4" stroke="#74BDE0" stroke-opacity="0.62"/>
<circle cx="645.8" cy="233.0" r="2.62" fill="#38719D" fill-opacity="0.4" stroke="#38719D" stroke-opacity="0.62"/>
<circle cx="645.8" cy="271.5" r="2.62" fill="#38719D" fill-opacity="0.4" stroke="#38719D" stroke-opacity="0.62"/>
<circle cx="645.8" cy="231.8" r="2.62" fill="#38719D" fill-opacity="0.4" stroke="#38719D" stroke-opacity="0.62"/>
<circle cx="645.8" cy="284.1" r="2.62" fill="#38719D" fill-opacity="0.4" stroke="#38719D" stroke-opacity="0.62"/>
<circle cx="645.8" cy="227.1" r="2.62" fill="#74BDE0" fill-opacity="0.4" stroke="#74BDE0" stroke-opacity="0.62"/>
<circle cx="645.8" cy="229.1" r="2.62" fill="#38719D" fill-opacity="0.4" stroke="#38719D" stroke-opacity="0.62"/>
<circle cx="645.8" cy="289.0" r="2.62" fill="#74BDE0" fill-opacity="0.4" stroke="#74BDE0" stroke-opacity="0.62"/>
<circle cx="645.8" cy="283.5" r="2.62" fill="#74BDE0" fill-opacity="0.4" stroke="#74BDE0" stroke-opacity="0.62"/>
<circle cx="645.8" cy="258.8" r="2.62" fill="#38719D" fill-opacity="0.4" stroke="#38719D" stroke-opacity="0.62"/>
<circle cx="645.8" cy="281.9" r="2.62" fill="#38719D" fill-opacity="0.4" stroke="#38719D" stroke-opacity="0.62"/>
</g>
<polyline points="159.5,609.5 256.8,485.7 354.0,409.5 451.2,350.0 548.5,303.8 645.8,264.6" fill="none" stroke="#38719D" stroke-width="5.05" stroke-linejoin="round" stroke-linecap="butt"/>
<polyline points="159.5,609.5 256.8,483.0 354.0,404.7 451.2,344.4 548.5,295.6 645.8,256.4" fill="none" stroke="#74BDE0" stroke-width="5.05" stroke-linejoin="round" stroke-linecap="butt"/>
<circle cx="159.5" cy="609.5" r="7.1" fill="#38719D"/>
<circle cx="256.8" cy="485.7" r="7.1" fill="#38719D"/>
<circle cx="354.0" cy="409.5" r="7.1" fill="#38719D"/>
<circle cx="451.2" cy="350.0" r="7.1" fill="#38719D"/>
<circle cx="548.5" cy="303.8" r="7.1" fill="#38719D"/>
<circle cx="645.8" cy="264.6" r="7.1" fill="#38719D"/>
<circle cx="159.5" cy="609.5" r="7.1" fill="#74BDE0"/>
<circle cx="256.8" cy="483.0" r="7.1" fill="#74BDE0"/>
<circle cx="354.0" cy="404.7" r="7.1" fill="#74BDE0"/>
<circle cx="451.2" cy="344.4" r="7.1" fill="#74BDE0"/>
<circle cx="548.5" cy="295.6" r="7.1" fill="#74BDE0"/>
<circle cx="645.8" cy="256.4" r="7.1" fill="#74BDE0"/>
<path d="M124.20 73V636.6M122.55 634.9H680.6" stroke="#111111" stroke-width="3.3" fill="none"/>
<path d="M116.00 609.50H122.70" stroke="#222" stroke-width="3"/>
<text x="93.02" y="619.90" font-family="Liberation Sans, sans-serif" font-size="27.3" fill="#4D4D4D">0</text>
<path d="M116.00 439.00H122.70" stroke="#222" stroke-width="3"/>
<path transform="translate(77.84 449.40) scale(0.01333 -0.01333)" d="M763 0H583V1147Q518 1085 412.5 1023T223 930V1104Q374 1175 487 1276T647 1472H763Z" fill="#4D4D4D"/><text x="93.02" y="449.40" font-family="Liberation Sans, sans-serif" font-size="27.3" fill="#4D4D4D">0</text>
<path d="M116.00 268.50H122.70" stroke="#222" stroke-width="3"/>
<text x="77.84" y="278.90" font-family="Liberation Sans, sans-serif" font-size="27.3" fill="#4D4D4D">20</text>
<path d="M116.00 98.00H122.70" stroke="#222" stroke-width="3"/>
<text x="77.84" y="108.40" font-family="Liberation Sans, sans-serif" font-size="27.3" fill="#4D4D4D">30</text>
<path d="M159.50 636V643" stroke="#222" stroke-width="3"/>
<text x="140.53" y="670.20" font-family="Liberation Sans, sans-serif" font-size="27.3" fill="#4D4D4D">0.0</text>
<path d="M354.00 636V643" stroke="#222" stroke-width="3"/>
<text x="335.03" y="670.20" font-family="Liberation Sans, sans-serif" font-size="27.3" fill="#4D4D4D">0.</text><path transform="translate(357.79 670.20) scale(0.01333 -0.01333)" d="M763 0H583V1147Q518 1085 412.5 1023T223 930V1104Q374 1175 487 1276T647 1472H763Z" fill="#4D4D4D"/>
<path d="M548.50 636V643" stroke="#222" stroke-width="3"/>
<text x="529.53" y="670.20" font-family="Liberation Sans, sans-serif" font-size="27.3" fill="#4D4D4D">0.2</text>
<text x="402.3" y="707.0" text-anchor="middle" font-family="Liberation Sans, sans-serif" font-size="33.6" fill="#000">Cost</text>
<text transform="translate(63.2 354) rotate(-90)" text-anchor="middle" font-family="Liberation Sans, sans-serif" font-size="34" fill="#000">Mean Weighted Degree (±SEM)</text>
<text x="479.0" y="539.4" font-family="Liberation Sans, sans-serif" font-size="26" fill="#000">Group</text>
<path d="M480.9 567.8H501.1" stroke="#38719D" stroke-width="4"/>
<circle cx="491.0" cy="568.0" r="5.9" fill="#38719D"/>
<text x="517.2" y="576.3" font-family="Liberation Sans, sans-serif" font-size="21.2" fill="#000">Cognitive Decline</text>
<path d="M480.9 593.5H501.1" stroke="#74BDE0" stroke-width="4"/>
<circle cx="491.0" cy="593.7" r="5.9" fill="#74BDE0"/>
<text x="517.2" y="602.0" font-family="Liberation Sans, sans-serif" font-size="21.2" fill="#000">Cognitive Stable</text>
</g>
<g>
<text x="738.30" y="40.4" font-family="Liberation Sans, sans-serif" font-size="53.5" font-weight="bold" fill="#000">b</text>
<text transform="translate(786.5 0) scale(0.83 1) translate(-786.5 0)" x="770.99" y="40.4" font-family="Liberation Sans, sans-serif" font-size="53.5" font-weight="bold" fill="#000">)</text>
<text x="814.8" y="39.3" font-family="Liberation Sans, sans-serif" font-size="45.4" fill="#000">Network: Frontoparietal</text>
<path d="M868.3 609.5H887.9M868.3 609.5H887.9M878.1 609.5V609.5" stroke="#38719D" stroke-width="2" fill="none"/>
<path d="M965.6 465.9H985.2M965.6 490.6H985.2M975.4 465.9V490.6" stroke="#38719D" stroke-width="2" fill="none"/>
<path d="M1062.9 385.0H1082.5M1062.9 414.6H1082.5M1072.7 385.0V414.6" stroke="#38719D" stroke-width="2" fill="none"/>
<path d="M1160.1 324.6H1179.7M1160.1 356.0H1179.7M1169.9 324.6V356.0" stroke="#38719D" stroke-width="2" fill="none"/>
<path d="M1257.4 277.9H1277.0M1257.4 310.3H1277.0M1267.2 277.9V310.3" stroke="#38719D" stroke-width="2" fill="none"/>
<path d="M1354.7 239.5H1374.3M1354.7 272.9H1374.3M1364.5 239.5V272.9" stroke="#38719D" stroke-width="2" fill="none"/>
<path d="M868.3 609.5H887.9M868.3 609.5H887.9M878.1 609.5V609.5" stroke="#74BDE0" stroke-width="2" fill="none"/>
<path d="M965.6 469.8H985.2M965.6 491.7H985.2M975.4 469.8V491.7" stroke="#74BDE0" stroke-width="2" fill="none"/>
<path d="M1062.9 386.5H1082.5M1062.9 415.1H1082.5M1072.7 386.5V415.1" stroke="#74BDE0" stroke-width="2" fill="none"/>
<path d="M1160.1 326.0H1179.7M1160.1 357.0H1179.7M1169.9 326.0V357.0" stroke="#74BDE0" stroke-width="2" fill="none"/>
<path d="M1257.4 277.5H1277.0M1257.4 310.3H1277.0M1267.2 277.5V310.3" stroke="#74BDE0" stroke-width="2" fill="none"/>
<path d="M1354.7 239.6H1374.3M1354.7 272.5H1374.3M1364.5 239.6V272.5" stroke="#74BDE0" stroke-width="2" fill="none"/>
<g stroke-width="1.05">
<circle cx="975.4" cy="455.9" r="2.62" fill="#74BDE0" fill-opacity="0.4" stroke="#74BDE0" stroke-opacity="0.62"/>
<circle cx="975.4" cy="475.4" r="2.62" fill="#74BDE0" fill-opacity="0.4" stroke="#74BDE0" stroke-opacity="0.62"/>
<circle cx="975.4" cy="447.5" r="2.62" fill="#38719D" fill-opacity="0.4" stroke="#38719D" stroke-opacity="0.62"/>
<circle cx="975.4" cy="420.3" r="2.62" fill="#38719D" fill-opacity="0.4" stroke="#38719D" stroke-opacity="0.62"/>
<circle cx="975.4" cy="411.6" r="2.62" fill="#38719D" fill-opacity="0.4" stroke="#38719D" stroke-opacity="0.62"/>
<circle cx="975.4" cy="479.2" r="2.62" fill="#74BDE0" fill-opacity="0.4" stroke="#74BDE0" stroke-opacity="0.62"/>
<circle cx="975.4" cy="455.0" r="2.62" fill="#74BDE0" fill-opacity="0.4" stroke="#74BDE0" stroke-opacity="0.62"/>
<circle cx="975.4" cy="449.6" r="2.62" fill="#74BDE0" fill-opacity="0.4" stroke="#74BDE0" stroke-opacity="0.62"/>
<circle cx="975.4" cy="494.9" r="2.62" fill="#74BDE0" fill-opacity="0.4" stroke="#74BDE0" stroke-opacity="0.62"/>
<circle cx="975.4" cy="513.8" r="2.62" fill="#38719D" fill-opacity="0.4" stroke="#38719D" stroke-opacity="0.62"/>
<circle cx="975.4" cy="459.3" r="2.62" fill="#74BDE0" fill-opacity="0.4" stroke="#74BDE0" stroke-opacity="0.62"/>
<circle cx="975.4" cy="477.7" r="2.62" fill="#74BDE0" fill-opacity="0.4" stroke="#74BDE0" stroke-opacity="0.62"/>
<circle cx="975.4" cy="507.1" r="2.62" fill="#74BDE0" fill-opacity="0.4" stroke="#74BDE0" stroke-opacity="0.62"/>
<circle cx="975.4" cy="450.5" r="2.62" fill="#74BDE0" fill-opacity="0.4" stroke="#74BDE0" stroke-opacity="0.62"/>
<circle cx="975.4" cy="486.4" r="2.62" fill="#74BDE0" fill-opacity="0.4" stroke="#74BDE0" stroke-opacity="0.62"/>
<circle cx="975.4" cy="441.8" r="2.62" fill="#74BDE0" fill-opacity="0.4" stroke="#74BDE0" stroke-opacity="0.62"/>
<circle cx="975.4" cy="451.5" r="2.62" fill="#74BDE0" fill-opacity="0.4" stroke="#74BDE0" stroke-opacity="0.62"/>
<circle cx="975.4" cy="484.5" r="2.62" fill="#74BDE0" fill-opacity="0.4" stroke="#74BDE0" stroke-opacity="0.62"/>
<circle cx="975.4" cy="490.8" r="2.62" fill="#74BDE0" fill-opacity="0.4" stroke="#74BDE0" stroke-opacity="0.62"/>
<circle cx="975.4" cy="454.1" r="2.62" fill="#74BDE0" fill-opacity="0.4" stroke="#74BDE0" stroke-opacity="0.62"/>
<circle cx="975.4" cy="489.8" r="2.62" fill="#74BDE0" fill-opacity="0.4" stroke="#74BDE0" stroke-opacity="0.62"/>
<circle cx="975.4" cy="508.6" r="2.62" fill="#74BDE0" fill-opacity="0.4" stroke="#74BDE0" stroke-opacity="0.62"/>
<circle cx="975.4" cy="446.0" r="2.62" fill="#38719D" fill-opacity="0.4" stroke="#38719D" stroke-opacity="0.62"/>
<circle cx="975.4" cy="481.7" r="2.62" fill="#74BDE0" fill-opacity="0.4" stroke="#74BDE0" stroke-opacity="0.62"/>
<circle cx="975.4" cy="499.4" r="2.62" fill="#74BDE0" fill-opacity="0.4" stroke="#74BDE0" stroke-opacity="0.62"/>
<circle cx="975.4" cy="496.5" r="2.62" fill="#74BDE0" fill-opacity="0.4" stroke="#74BDE0" stroke-opacity="0.62"/>
<circle cx="975.4" cy="503.0" r="2.62" fill="#38719D" fill-opacity="0.4" stroke="#38719D" stroke-opacity="0.62"/>
<circle cx="975.4" cy="457.6" r="2.62" fill="#74BDE0" fill-opacity="0.4" stroke="#74BDE0" stroke-opacity="0.62"/>
<circle cx="975.4" cy="452.9" r="2.62" fill="#74BDE0" fill-opacity="0.4" stroke="#74BDE0" stroke-opacity="0.62"/>
<circle cx="975.4" cy="501.5" r="2.62" fill="#74BDE0" fill-opacity="0.4" stroke="#74BDE0" stroke-opacity="0.62"/>
<circle cx="975.4" cy="502.5" r="2.62" fill="#74BDE0" fill-opacity="0.4" stroke="#74BDE0" stroke-opacity="0.62"/>
<circle cx="975.4" cy="511.5" r="2.62" fill="#74BDE0" fill-opacity="0.4" stroke="#74BDE0" stroke-opacity="0.62"/>
<circle cx="975.4" cy="497.0" r="2.62" fill="#38719D" fill-opacity="0.4" stroke="#38719D" stroke-opacity="0.62"/>
<circle cx="975.4" cy="469.5" r="2.62" fill="#74BDE0" fill-opacity="0.4" stroke="#74BDE0" stroke-opacity="0.62"/>
<circle cx="975.4" cy="492.3" r="2.62" fill="#74BDE0" fill-opacity="0.4" stroke="#74BDE0" stroke-opacity="0.62"/>
<circle cx="975.4" cy="525.8" r="2.62" fill="#74BDE0" fill-opacity="0.4" stroke="#74BDE0" stroke-opacity="0.62"/>
<circle cx="975.4" cy="500.6" r="2.62" fill="#74BDE0" fill-opacity="0.4" stroke="#74BDE0" stroke-opacity="0.62"/>
<circle cx="975.4" cy="504.1" r="2.62" fill="#74BDE0" fill-opacity="0.4" stroke="#74BDE0" stroke-opacity="0.62"/>
<circle cx="975.4" cy="494.0" r="2.62" fill="#74BDE0" fill-opacity="0.4" stroke="#74BDE0" stroke-opacity="0.62"/>
<circle cx="975.4" cy="525.8" r="2.62" fill="#38719D" fill-opacity="0.4" stroke="#38719D" stroke-opacity="0.62"/>
<circle cx="975.4" cy="456.7" r="2.62" fill="#74BDE0" fill-opacity="0.4" stroke="#74BDE0" stroke-opacity="0.62"/>
<circle cx="975.4" cy="497.8" r="2.62" fill="#74BDE0" fill-opacity="0.4" stroke="#74BDE0" stroke-opacity="0.62"/>
<circle cx="975.4" cy="505.6" r="2.62" fill="#74BDE0" fill-opacity="0.4" stroke="#74BDE0" stroke-opacity="0.62"/>
<circle cx="1072.7" cy="419.1" r="2.62" fill="#74BDE0" fill-opacity="0.4" stroke="#74BDE0" stroke-opacity="0.62"/>
<circle cx="1072.7" cy="424.4" r="2.62" fill="#74BDE0" fill-opacity="0.4" stroke="#74BDE0" stroke-opacity="0.62"/>
<circle cx="1072.7" cy="431.5" r="2.62" fill="#38719D" fill-opacity="0.4" stroke="#38719D" stroke-opacity="0.62"/>
<circle cx="1072.7" cy="376.3" r="2.62" fill="#74BDE0" fill-opacity="0.4" stroke="#74BDE0" stroke-opacity="0.62"/>
<circle cx="1072.7" cy="380.8" r="2.62" fill="#74BDE0" fill-opacity="0.4" stroke="#74BDE0" stroke-opacity="0.62"/>
<circle cx="1072.7" cy="409.8" r="2.62" fill="#38719D" fill-opacity="0.4" stroke="#38719D" stroke-opacity="0.62"/>
<circle cx="1072.7" cy="380.7" r="2.62" fill="#74BDE0" fill-opacity="0.4" stroke="#74BDE0" stroke-opacity="0.62"/>
<circle cx="1072.7" cy="425.9" r="2.62" fill="#74BDE0" fill-opacity="0.4" stroke="#74BDE0" stroke-opacity="0.62"/>
<circle cx="1072.7" cy="392.9" r="2.62" fill="#74BDE0" fill-opacity="0.4" stroke="#74BDE0" stroke-opacity="0.62"/>
<circle cx="1072.7" cy="446.5" r="2.62" fill="#38719D" fill-opacity="0.4" stroke="#38719D" stroke-opacity="0.62"/>
<circle cx="1072.7" cy="417.9" r="2.62" fill="#74BDE0" fill-opacity="0.4" stroke="#74BDE0" stroke-opacity="0.62"/>
<circle cx="1072.7" cy="423.7" r="2.62" fill="#74BDE0" fill-opacity="0.4" stroke="#74BDE0" stroke-opacity="0.62"/>
<circle cx="1072.7" cy="361.0" r="2.62" fill="#38719D" fill-opacity="0.4" stroke="#38719D" stroke-opacity="0.62"/>
<circle cx="1072.7" cy="409.3" r="2.62" fill="#38719D" fill-opacity="0.4" stroke="#38719D" stroke-opacity="0.62"/>
<circle cx="1072.7" cy="420.9" r="2.62" fill="#74BDE0" fill-opacity="0.4" stroke="#74BDE0" stroke-opacity="0.62"/>
<circle cx="1072.7" cy="430.4" r="2.62" fill="#74BDE0" fill-opacity="0.4" stroke="#74BDE0" stroke-opacity="0.62"/>
<circle cx="1072.7" cy="390.2" r="2.62" fill="#74BDE0" fill-opacity="0.4" stroke="#74BDE0" stroke-opacity="0.62"/>
<circle cx="1072.7" cy="416.4" r="2.62" fill="#74BDE0" fill-opacity="0.4" stroke="#74BDE0" stroke-opacity="0.62"/>
<circle cx="1072.7" cy="432.0" r="2.62" fill="#38719D" fill-opacity="0.4" stroke="#38719D" stroke-opacity="0.62"/>
<circle cx="1072.7" cy="428.4" r="2.62" fill="#74BDE0" fill-opacity="0.4" stroke="#74BDE0" stroke-opacity="0.62"/>
<circle cx="1072.7" cy="429.3" r="2.62" fill="#74BDE0" fill-opacity="0.4" stroke="#74BDE0" stroke-opacity="0.62"/>
<circle cx="1072.7" cy="382.8" r="2.62" fill="#74BDE0" fill-opacity="0.4" stroke="#74BDE0" stroke-opacity="0.62"/>
<circle cx="1072.7" cy="378.9" r="2.62" fill="#74BDE0" fill-opacity="0.4" stroke="#74BDE0" stroke-opacity="0.62"/>
<circle cx="1072.7" cy="423.0" r="2.62" fill="#38719D" fill-opacity="0.4" stroke="#38719D" stroke-opacity="0.62"/>
<circle cx="1072.7" cy="366.1" r="2.62" fill="#74BDE0" fill-opacity="0.4" stroke="#74BDE0" stroke-opacity="0.62"/>
<circle cx="1072.7" cy="385.7" r="2.62" fill="#74BDE0" fill-opacity="0.4" stroke="#74BDE0" stroke-opacity="0.62"/>
<circle cx="1072.7" cy="373.1" r="2.62" fill="#74BDE0" fill-opacity="0.4" stroke="#74BDE0" stroke-opacity="0.62"/>
<circle cx="1072.7" cy="448.4" r="2.62" fill="#74BDE0" fill-opacity="0.4" stroke="#74BDE0" stroke-opacity="0.62"/>
<circle cx="1072.7" cy="355.0" r="2.62" fill="#74BDE0" fill-opacity="0.4" stroke="#74BDE0" stroke-opacity="0.62"/>
<circle cx="1072.7" cy="381.7" r="2.62" fill="#74BDE0" fill-opacity="0.4" stroke="#74BDE0" stroke-opacity="0.62"/>
<circle cx="1072.7" cy="370.4" r="2.62" fill="#74BDE0" fill-opacity="0.4" stroke="#74BDE0" stroke-opacity="0.62"/>
<circle cx="1072.7" cy="372.0" r="2.62" fill="#38719D" fill-opacity="0.4" stroke="#38719D" stroke-opacity="0.62"/>
<circle cx="1072.7" cy="422.6" r="2.62" fill="#74BDE0" fill-opacity="0.4" stroke="#74BDE0" stroke-opacity="0.62"/>
<circle cx="1072.7" cy="333.7" r="2.62" fill="#38719D" fill-opacity="0.4" stroke="#38719D" stroke-opacity="0.62"/>
<circle cx="1072.7" cy="361.4" r="2.62" fill="#38719D" fill-opacity="0.4" stroke="#38719D" stroke-opacity="0.62"/>
<circle cx="1072.7" cy="427.3" r="2.62" fill="#74BDE0" fill-opacity="0.4" stroke="#74BDE0" stroke-opacity="0.62"/>
<circle cx="1072.7" cy="446.0" r="2.62" fill="#74BDE0" fill-opacity="0.4" stroke="#74BDE0" stroke-opacity="0.62"/>
<circle cx="1072.7" cy="369.0" r="2.62" fill="#74BDE0" fill-opacity="0.4" stroke="#74BDE0" stroke-opacity="0.62"/>
<circle cx="1072.7" cy="366.7" r="2.62" fill="#74BDE0" fill-opacity="0.4" stroke="#74BDE0" stroke-opacity="0.62"/>
<circle cx="1072.7" cy="381.7" r="2.62" fill="#74BDE0" fill-opacity="0.4" stroke="#74BDE0" stroke-opacity="0.62"/>
<circle cx="1072.7" cy="420.0" r="2.62" fill="#74BDE0" fill-opacity="0.4" stroke="#74BDE0" stroke-opacity="0.62"/>
<circle cx="1072.7" cy="388.5" r="2.62" fill="#74BDE0" fill-opacity="0.4" stroke="#74BDE0" stroke-opacity="0.62"/>
<circle cx="1072.7" cy="372.0" r="2.62" fill="#74BDE0" fill-opacity="0.4" stroke="#74BDE0" stroke-opacity="0.62"/>
<circle cx="1072.7" cy="462.4" r="2.62" fill="#74BDE0" fill-opacity="0.4" stroke="#74BDE0" stroke-opacity="0.62"/>
<circle cx="1072.7" cy="465.4" r="2.62" fill="#38719D" fill-opacity="0.4" stroke="#38719D" stroke-opacity="0.62"/>
<circle cx="1072.7" cy="374.3" r="2.62" fill="#74BDE0" fill-opacity="0.4" stroke="#74BDE0" stroke-opacity="0.62"/>
<circle cx="1072.7" cy="318.5" r="2.62" fill="#38719D" fill-opacity="0.4" stroke="#38719D" stroke-opacity="0.62"/>
<circle cx="1072.7" cy="379.1" r="2.62" fill="#74BDE0" fill-opacity="0.4" stroke="#74BDE0" stroke-opacity="0.62"/>
<circle cx="1072.7" cy="391.6" r="2.62" fill="#74BDE0" fill-opacity="0.4" stroke="#74BDE0" stroke-opacity="0.62"/>
<circle cx="1072.7" cy="377.7" r="2.62" fill="#74BDE0" fill-opacity="0.4" stroke="#74BDE0" stroke-opacity="0.62"/>
<circle cx="1072.7" cy="386.5" r="2.62" fill="#74BDE0" fill-opacity="0.4" stroke="#74BDE0" stroke-opacity="0.62"/>
<circle cx="1072.7" cy="383.9" r="2.62" fill="#74BDE0" fill-opacity="0.4" stroke="#74BDE0" stroke-opacity="0.62"/>
<circle cx="1072.7" cy="442.0" r="2.62" fill="#74BDE0" fill-opacity="0.4" stroke="#74BDE0" stroke-opacity="0.62"/>
<circle cx="1169.9" cy="356.0" r="2.62" fill="#74BDE0" fill-opacity="0.4" stroke="#74BDE0" stroke-opacity="0.62"/>
<circle cx="1169.9" cy="308.5" r="2.62" fill="#74BDE0" fill-opacity="0.4" stroke="#74BDE0" stroke-opacity="0.62"/>
<circle cx="1169.9" cy="369.0" r="2.62" fill="#74BDE0" fill-opacity="0.4" stroke="#74BDE0" stroke-opacity="0.62"/>
<circle cx="1169.9" cy="269.2" r="2.62" fill="#38719D" fill-opacity="0.4" stroke="#38719D" stroke-opacity="0.62"/>
<circle cx="1169.9" cy="331.5" r="2.62" fill="#38719D" fill-opacity="0.4" stroke="#38719D" stroke-opacity="0.62"/>
<circle cx="1169.9" cy="328.6" r="2.62" fill="#74BDE0" fill-opacity="0.4" stroke="#74BDE0" stroke-opacity="0.62"/>
<circle cx="1169.9" cy="332.2" r="2.62" fill="#74BDE0" fill-opacity="0.4" stroke="#74BDE0" stroke-opacity="0.62"/>
<circle cx="1169.9" cy="300.9" r="2.62" fill="#38719D" fill-opacity="0.4" stroke="#38719D" stroke-opacity="0.62"/>
<circle cx="1169.9" cy="320.1" r="2.62" fill="#74BDE0" fill-opacity="0.4" stroke="#74BDE0" stroke-opacity="0.62"/>
<circle cx="1169.9" cy="365.6" r="2.62" fill="#74BDE0" fill-opacity="0.4" stroke="#74BDE0" stroke-opacity="0.62"/>
<circle cx="1169.9" cy="321.0" r="2.62" fill="#38719D" fill-opacity="0.4" stroke="#38719D" stroke-opacity="0.62"/>
<circle cx="1169.9" cy="364.4" r="2.62" fill="#74BDE0" fill-opacity="0.4" stroke="#74BDE0" stroke-opacity="0.62"/>
<circle cx="1169.9" cy="302.7" r="2.62" fill="#38719D" fill-opacity="0.4" stroke="#38719D" stroke-opacity="0.62"/>
<circle cx="1169.9" cy="373.0" r="2.62" fill="#38719D" fill-opacity="0.4" stroke="#38719D" stroke-opacity="0.62"/>
<circle cx="1169.9" cy="291.8" r="2.62" fill="#38719D" fill-opacity="0.4" stroke="#38719D" stroke-opacity="0.62"/>
<circle cx="1169.9" cy="354.6" r="2.62" fill="#74BDE0" fill-opacity="0.4" stroke="#74BDE0" stroke-opacity="0.62"/>
<circle cx="1169.9" cy="394.2" r="2.62" fill="#74BDE0" fill-opacity="0.4" stroke="#74BDE0" stroke-opacity="0.62"/>
<circle cx="1169.9" cy="321.6" r="2.62" fill="#74BDE0" fill-opacity="0.4" stroke="#74BDE0" stroke-opacity="0.62"/>
<circle cx="1169.9" cy="406.0" r="2.62" fill="#74BDE0" fill-opacity="0.4" stroke="#74BDE0" stroke-opacity="0.62"/>
<circle cx="1169.9" cy="371.6" r="2.62" fill="#74BDE0" fill-opacity="0.4" stroke="#74BDE0" stroke-opacity="0.62"/>
<circle cx="1169.9" cy="385.0" r="2.62" fill="#38719D" fill-opacity="0.4" stroke="#38719D" stroke-opacity="0.62"/>
<circle cx="1169.9" cy="319.1" r="2.62" fill="#74BDE0" fill-opacity="0.4" stroke="#74BDE0" stroke-opacity="0.62"/>
<circle cx="1169.9" cy="368.1" r="2.62" fill="#74BDE0" fill-opacity="0.4" stroke="#74BDE0" stroke-opacity="0.62"/>
<circle cx="1169.9" cy="317.3" r="2.62" fill="#74BDE0" fill-opacity="0.4" stroke="#74BDE0" stroke-opacity="0.62"/>
<circle cx="1169.9" cy="363.5" r="2.62" fill="#74BDE0" fill-opacity="0.4" stroke="#74BDE0" stroke-opacity="0.62"/>
<circle cx="1169.9" cy="313.7" r="2.62" fill="#74BDE0" fill-opacity="0.4" stroke="#74BDE0" stroke-opacity="0.62"/>
<circle cx="1169.9" cy="291.5" r="2.62" fill="#74BDE0" fill-opacity="0.4" stroke="#74BDE0" stroke-opacity="0.62"/>
<circle cx="1169.9" cy="352.4" r="2.62" fill="#74BDE0" fill-opacity="0.4" stroke="#74BDE0" stroke-opacity="0.62"/>
<circle cx="1169.9" cy="362.5" r="2.62" fill="#74BDE0" fill-opacity="0.4" stroke="#74BDE0" stroke-opacity="0.62"/>
<circle cx="1169.9" cy="408.7" r="2.62" fill="#38719D" fill-opacity="0.4" stroke="#38719D" stroke-opacity="0.62"/>
<circle cx="1169.9" cy="322.8" r="2.62" fill="#74BDE0" fill-opacity="0.4" stroke="#74BDE0" stroke-opacity="0.62"/>
<circle cx="1169.9" cy="316.0" r="2.62" fill="#74BDE0" fill-opacity="0.4" stroke="#74BDE0" stroke-opacity="0.62"/>
<circle cx="1169.9" cy="330.4" r="2.62" fill="#74BDE0" fill-opacity="0.4" stroke="#74BDE0" stroke-opacity="0.62"/>
<circle cx="1169.9" cy="329.3" r="2.62" fill="#74BDE0" fill-opacity="0.4" stroke="#74BDE0" stroke-opacity="0.62"/>
<circle cx="1169.9" cy="324.2" r="2.62" fill="#74BDE0" fill-opacity="0.4" stroke="#74BDE0" stroke-opacity="0.62"/>
<circle cx="1169.9" cy="366.6" r="2.62" fill="#74BDE0" fill-opacity="0.4" stroke="#74BDE0" stroke-opacity="0.62"/>
<circle cx="1169.9" cy="314.7" r="2.62" fill="#74BDE0" fill-opacity="0.4" stroke="#74BDE0" stroke-opacity="0.62"/>
<circle cx="1169.9" cy="370.6" r="2.62" fill="#74BDE0" fill-opacity="0.4" stroke="#74BDE0" stroke-opacity="0.62"/>
<circle cx="1169.9" cy="377.0" r="2.62" fill="#38719D" fill-opacity="0.4" stroke="#38719D" stroke-opacity="0.62"/>
<circle cx="1169.9" cy="359.4" r="2.62" fill="#74BDE0" fill-opacity="0.4" stroke="#74BDE0" stroke-opacity="0.62"/>
<circle cx="1169.9" cy="325.1" r="2.62" fill="#74BDE0" fill-opacity="0.4" stroke="#74BDE0" stroke-opacity="0.62"/>
<circle cx="1169.9" cy="333.6" r="2.62" fill="#74BDE0" fill-opacity="0.4" stroke="#74BDE0" stroke-opacity="0.62"/>
<circle cx="1169.9" cy="350.5" r="2.62" fill="#38719D" fill-opacity="0.4" stroke="#38719D" stroke-opacity="0.62"/>
<circle cx="1169.9" cy="360.5" r="2.62" fill="#74BDE0" fill-opacity="0.4" stroke="#74BDE0" stroke-opacity="0.62"/>
<circle cx="1169.9" cy="358.6" r="2.62" fill="#74BDE0" fill-opacity="0.4" stroke="#74BDE0" stroke-opacity="0.62"/>
<circle cx="1169.9" cy="366.0" r="2.62" fill="#38719D" fill-opacity="0.4" stroke="#38719D" stroke-opacity="0.62"/>
<circle cx="1169.9" cy="264.1" r="2.62" fill="#38719D" fill-opacity="0.4" stroke="#38719D" stroke-opacity="0.62"/>
<circle cx="1169.9" cy="350.0" r="2.62" fill="#38719D" fill-opacity="0.4" stroke="#38719D" stroke-opacity="0.62"/>
<circle cx="1169.9" cy="326.4" r="2.62" fill="#74BDE0" fill-opacity="0.4" stroke="#74BDE0" stroke-opacity="0.62"/>
<circle cx="1267.2" cy="264.7" r="2.62" fill="#74BDE0" fill-opacity="0.4" stroke="#74BDE0" stroke-opacity="0.62"/>
<circle cx="1267.2" cy="348.5" r="2.62" fill="#74BDE0" fill-opacity="0.4" stroke="#74BDE0" stroke-opacity="0.62"/>
<circle cx="1267.2" cy="266.6" r="2.62" fill="#74BDE0" fill-opacity="0.4" stroke="#74BDE0" stroke-opacity="0.62"/>
<circle cx="1267.2" cy="255.7" r="2.62" fill="#74BDE0" fill-opacity="0.4" stroke="#74BDE0" stroke-opacity="0.62"/>
<circle cx="1267.2" cy="306.0" r="2.62" fill="#38719D" fill-opacity="0.4" stroke="#38719D" stroke-opacity="0.62"/>
<circle cx="1267.2" cy="320.6" r="2.62" fill="#74BDE0" fill-opacity="0.4" stroke="#74BDE0" stroke-opacity="0.62"/>
<circle cx="1267.2" cy="272.5" r="2.62" fill="#74BDE0" fill-opacity="0.4" stroke="#74BDE0" stroke-opacity="0.62"/>
<circle cx="1267.2" cy="332.8" r="2.62" fill="#74BDE0" fill-opacity="0.4" stroke="#74BDE0" stroke-opacity="0.62"/>
<circle cx="1267.2" cy="285.0" r="2.62" fill="#38719D" fill-opacity="0.4" stroke="#38719D" stroke-opacity="0.62"/>
<circle cx="1267.2" cy="328.0" r="2.62" fill="#38719D" fill-opacity="0.4" stroke="#38719D" stroke-opacity="0.62"/>
<circle cx="1267.2" cy="324.0" r="2.62" fill="#38719D" fill-opacity="0.4" stroke="#38719D" stroke-opacity="0.62"/>
<circle cx="1267.2" cy="257.9" r="2.62" fill="#74BDE0" fill-opacity="0.4" stroke="#74BDE0" stroke-opacity="0.62"/>
<circle cx="1267.2" cy="279.6" r="2.62" fill="#74BDE0" fill-opacity="0.4" stroke="#74BDE0" stroke-opacity="0.62"/>
<circle cx="1267.2" cy="275.0" r="2.62" fill="#74BDE0" fill-opacity="0.4" stroke="#74BDE0" stroke-opacity="0.62"/>
<circle cx="1267.2" cy="243.3" r="2.62" fill="#74BDE0" fill-opacity="0.4" stroke="#74BDE0" stroke-opacity="0.62"/>
<circle cx="1267.2" cy="302.5" r="2.62" fill="#38719D" fill-opacity="0.4" stroke="#38719D" stroke-opacity="0.62"/>
<circle cx="1267.2" cy="266.0" r="2.62" fill="#38719D" fill-opacity="0.4" stroke="#38719D" stroke-opacity="0.62"/>
<circle cx="1267.2" cy="340.0" r="2.62" fill="#38719D" fill-opacity="0.4" stroke="#38719D" stroke-opacity="0.62"/>
<circle cx="1267.2" cy="262.1" r="2.62" fill="#74BDE0" fill-opacity="0.4" stroke="#74BDE0" stroke-opacity="0.62"/>
<circle cx="1267.2" cy="269.3" r="2.62" fill="#74BDE0" fill-opacity="0.4" stroke="#74BDE0" stroke-opacity="0.62"/>
<circle cx="1267.2" cy="355.0" r="2.62" fill="#38719D" fill-opacity="0.4" stroke="#38719D" stroke-opacity="0.62"/>
<circle cx="1267.2" cy="330.9" r="2.62" fill="#74BDE0" fill-opacity="0.4" stroke="#74BDE0" stroke-opacity="0.62"/>
<circle cx="1267.2" cy="302.9" r="2.62" fill="#38719D" fill-opacity="0.4" stroke="#38719D" stroke-opacity="0.62"/>
<circle cx="1267.2" cy="329.6" r="2.62" fill="#74BDE0" fill-opacity="0.4" stroke="#74BDE0" stroke-opacity="0.62"/>
<circle cx="1267.2" cy="327.2" r="2.62" fill="#74BDE0" fill-opacity="0.4" stroke="#74BDE0" stroke-opacity="0.62"/>
<circle cx="1267.2" cy="328.8" r="2.62" fill="#74BDE0" fill-opacity="0.4" stroke="#74BDE0" stroke-opacity="0.62"/>
<circle cx="1267.2" cy="334.5" r="2.62" fill="#74BDE0" fill-opacity="0.4" stroke="#74BDE0" stroke-opacity="0.62"/>
<circle cx="1267.2" cy="358.7" r="2.62" fill="#38719D" fill-opacity="0.4" stroke="#38719D" stroke-opacity="0.62"/>
<circle cx="1267.2" cy="333.0" r="2.62" fill="#38719D" fill-opacity="0.4" stroke="#38719D" stroke-opacity="0.62"/>
<circle cx="1267.2" cy="259.1" r="2.62" fill="#74BDE0" fill-opacity="0.4" stroke="#74BDE0" stroke-opacity="0.62"/>
<circle cx="1267.2" cy="321.8" r="2.62" fill="#74BDE0" fill-opacity="0.4" stroke="#74BDE0" stroke-opacity="0.62"/>
<circle cx="1267.2" cy="236.2" r="2.62" fill="#38719D" fill-opacity="0.4" stroke="#38719D" stroke-opacity="0.62"/>
<circle cx="1267.2" cy="260.7" r="2.62" fill="#74BDE0" fill-opacity="0.4" stroke="#74BDE0" stroke-opacity="0.62"/>
<circle cx="1267.2" cy="271.2" r="2.62" fill="#74BDE0" fill-opacity="0.4" stroke="#74BDE0" stroke-opacity="0.62"/>
<circle cx="1267.2" cy="263.4" r="2.62" fill="#74BDE0" fill-opacity="0.4" stroke="#74BDE0" stroke-opacity="0.62"/>
<circle cx="1267.2" cy="283.4" r="2.62" fill="#74BDE0" fill-opacity="0.4" stroke="#74BDE0" stroke-opacity="0.62"/>
<circle cx="1267.2" cy="282.0" r="2.62" fill="#74BDE0" fill-opacity="0.4" stroke="#74BDE0" stroke-opacity="0.62"/>
<circle cx="1267.2" cy="276.2" r="2.62" fill="#74BDE0" fill-opacity="0.4" stroke="#74BDE0" stroke-opacity="0.62"/>
<circle cx="1267.2" cy="336.7" r="2.62" fill="#74BDE0" fill-opacity="0.4" stroke="#74BDE0" stroke-opacity="0.62"/>
<circle cx="1267.2" cy="319.3" r="2.62" fill="#74BDE0" fill-opacity="0.4" stroke="#74BDE0" stroke-opacity="0.62"/>
<circle cx="1267.2" cy="323.5" r="2.62" fill="#74BDE0" fill-opacity="0.4" stroke="#74BDE0" stroke-opacity="0.62"/>
<circle cx="1267.2" cy="324.7" r="2.62" fill="#74BDE0" fill-opacity="0.4" stroke="#74BDE0" stroke-opacity="0.62"/>
<circle cx="1267.2" cy="277.4" r="2.62" fill="#74BDE0" fill-opacity="0.4" stroke="#74BDE0" stroke-opacity="0.62"/>
<circle cx="1267.2" cy="257.2" r="2.62" fill="#74BDE0" fill-opacity="0.4" stroke="#74BDE0" stroke-opacity="0.62"/>
<circle cx="1267.2" cy="273.1" r="2.62" fill="#74BDE0" fill-opacity="0.4" stroke="#74BDE0" stroke-opacity="0.62"/>
<circle cx="1267.2" cy="280.3" r="2.62" fill="#74BDE0" fill-opacity="0.4" stroke="#74BDE0" stroke-opacity="0.62"/>
<circle cx="1267.2" cy="314.5" r="2.62" fill="#74BDE0" fill-opacity="0.4" stroke="#74BDE0" stroke-opacity="0.62"/>
<circle cx="1267.2" cy="236.5" r="2.62" fill="#38719D" fill-opacity="0.4" stroke="#38719D" stroke-opacity="0.62"/>
<circle cx="1267.2" cy="221.8" r="2.62" fill="#38719D" fill-opacity="0.4" stroke="#38719D" stroke-opacity="0.62"/>
<circle cx="1267.2" cy="221.5" r="2.62" fill="#38719D" fill-opacity="0.4" stroke="#38719D" stroke-opacity="0.62"/>
<circle cx="1267.2" cy="268.3" r="2.62" fill="#74BDE0" fill-opacity="0.4" stroke="#74BDE0" stroke-opacity="0.62"/>
<circle cx="1364.5" cy="266.7" r="2.62" fill="#74BDE0" fill-opacity="0.4" stroke="#74BDE0" stroke-opacity="0.62"/>
<circle cx="1364.5" cy="285.6" r="2.62" fill="#74BDE0" fill-opacity="0.4" stroke="#74BDE0" stroke-opacity="0.62"/>
<circle cx="1364.5" cy="213.3" r="2.62" fill="#74BDE0" fill-opacity="0.4" stroke="#74BDE0" stroke-opacity="0.62"/>
<circle cx="1364.5" cy="296.9" r="2.62" fill="#74BDE0" fill-opacity="0.4" stroke="#74BDE0" stroke-opacity="0.62"/>
<circle cx="1364.5" cy="245.0" r="2.62" fill="#38719D" fill-opacity="0.4" stroke="#38719D" stroke-opacity="0.62"/>
<circle cx="1364.5" cy="228.5" r="2.62" fill="#38719D" fill-opacity="0.4" stroke="#38719D" stroke-opacity="0.62"/>
<circle cx="1364.5" cy="287.0" r="2.62" fill="#38719D" fill-opacity="0.4" stroke="#38719D" stroke-opacity="0.62"/>
<circle cx="1364.5" cy="190.0" r="2.62" fill="#38719D" fill-opacity="0.4" stroke="#38719D" stroke-opacity="0.62"/>
<circle cx="1364.5" cy="232.9" r="2.62" fill="#74BDE0" fill-opacity="0.4" stroke="#74BDE0" stroke-opacity="0.62"/>
<circle cx="1364.5" cy="295.7" r="2.62" fill="#74BDE0" fill-opacity="0.4" stroke="#74BDE0" stroke-opacity="0.62"/>
<circle cx="1364.5" cy="313.5" r="2.62" fill="#74BDE0" fill-opacity="0.4" stroke="#74BDE0" stroke-opacity="0.62"/>
<circle cx="1364.5" cy="307.1" r="2.62" fill="#74BDE0" fill-opacity="0.4" stroke="#74BDE0" stroke-opacity="0.62"/>
<circle cx="1364.5" cy="226.5" r="2.62" fill="#74BDE0" fill-opacity="0.4" stroke="#74BDE0" stroke-opacity="0.62"/>
<circle cx="1364.5" cy="293.4" r="2.62" fill="#74BDE0" fill-opacity="0.4" stroke="#74BDE0" stroke-opacity="0.62"/>
<circle cx="1364.5" cy="248.0" r="2.62" fill="#38719D" fill-opacity="0.4" stroke="#38719D" stroke-opacity="0.62"/>
<circle cx="1364.5" cy="229.7" r="2.62" fill="#74BDE0" fill-opacity="0.4" stroke="#74BDE0" stroke-opacity="0.62"/>
<circle cx="1364.5" cy="233.9" r="2.62" fill="#74BDE0" fill-opacity="0.4" stroke="#74BDE0" stroke-opacity="0.62"/>
<circle cx="1364.5" cy="220.6" r="2.62" fill="#74BDE0" fill-opacity="0.4" stroke="#74BDE0" stroke-opacity="0.62"/>
<circle cx="1364.5" cy="296.0" r="2.62" fill="#38719D" fill-opacity="0.4" stroke="#38719D" stroke-opacity="0.62"/>
<circle cx="1364.5" cy="228.0" r="2.62" fill="#74BDE0" fill-opacity="0.4" stroke="#74BDE0" stroke-opacity="0.62"/>
<circle cx="1364.5" cy="181.6" r="2.62" fill="#38719D" fill-opacity="0.4" stroke="#38719D" stroke-opacity="0.62"/>
<circle cx="1364.5" cy="282.4" r="2.62" fill="#74BDE0" fill-opacity="0.4" stroke="#74BDE0" stroke-opacity="0.62"/>
<circle cx="1364.5" cy="185.4" r="2.62" fill="#38719D" fill-opacity="0.4" stroke="#38719D" stroke-opacity="0.62"/>
<circle cx="1364.5" cy="228.4" r="2.62" fill="#74BDE0" fill-opacity="0.4" stroke="#74BDE0" stroke-opacity="0.62"/>
<circle cx="1364.5" cy="236.2" r="2.62" fill="#74BDE0" fill-opacity="0.4" stroke="#74BDE0" stroke-opacity="0.62"/>
<circle cx="1364.5" cy="234.8" r="2.62" fill="#74BDE0" fill-opacity="0.4" stroke="#74BDE0" stroke-opacity="0.62"/>
<circle cx="1364.5" cy="268.5" r="2.62" fill="#74BDE0" fill-opacity="0.4" stroke="#74BDE0" stroke-opacity="0.62"/>
<circle cx="1364.5" cy="237.6" r="2.62" fill="#74BDE0" fill-opacity="0.4" stroke="#74BDE0" stroke-opacity="0.62"/>
<circle cx="1364.5" cy="222.3" r="2.62" fill="#74BDE0" fill-opacity="0.4" stroke="#74BDE0" stroke-opacity="0.62"/>
<circle cx="1364.5" cy="284.5" r="2.62" fill="#74BDE0" fill-opacity="0.4" stroke="#74BDE0" stroke-opacity="0.62"/>
<circle cx="1364.5" cy="224.1" r="2.62" fill="#74BDE0" fill-opacity="0.4" stroke="#74BDE0" stroke-opacity="0.62"/>
<circle cx="1364.5" cy="193.7" r="2.62" fill="#38719D" fill-opacity="0.4" stroke="#38719D" stroke-opacity="0.62"/>
<circle cx="1364.5" cy="298.1" r="2.62" fill="#74BDE0" fill-opacity="0.4" stroke="#74BDE0" stroke-opacity="0.62"/>
<circle cx="1364.5" cy="289.6" r="2.62" fill="#74BDE0" fill-opacity="0.4" stroke="#74BDE0" stroke-opacity="0.62"/>
<circle cx="1364.5" cy="322.4" r="2.62" fill="#38719D" fill-opacity="0.4" stroke="#38719D" stroke-opacity="0.62"/>
<circle cx="1364.5" cy="283.3" r="2.62" fill="#74BDE0" fill-opacity="0.4" stroke="#74BDE0" stroke-opacity="0.62"/>
<circle cx="1364.5" cy="206.4" r="2.62" fill="#74BDE0" fill-opacity="0.4" stroke="#74BDE0" stroke-opacity="0.62"/>
<circle cx="1364.5" cy="290.4" r="2.62" fill="#74BDE0" fill-opacity="0.4" stroke="#74BDE0" stroke-opacity="0.62"/>
<circle cx="1364.5" cy="294.0" r="2.62" fill="#74BDE0" fill-opacity="0.4" stroke="#74BDE0" stroke-opacity="0.62"/>
<circle cx="1364.5" cy="264.8" r="2.62" fill="#74BDE0" fill-opacity="0.4" stroke="#74BDE0" stroke-opacity="0.62"/>
<circle cx="1364.5" cy="307.4" r="2.62" fill="#38719D" fill-opacity="0.4" stroke="#38719D" stroke-opacity="0.62"/>
<circle cx="1364.5" cy="287.3" r="2.62" fill="#74BDE0" fill-opacity="0.4" stroke="#74BDE0" stroke-opacity="0.62"/>
<circle cx="1364.5" cy="231.5" r="2.62" fill="#74BDE0" fill-opacity="0.4" stroke="#74BDE0" stroke-opacity="0.62"/>
<circle cx="1364.5" cy="298.6" r="2.62" fill="#74BDE0" fill-opacity="0.4" stroke="#74BDE0" stroke-opacity="0.62"/>
<circle cx="1364.5" cy="225.3" r="2.62" fill="#74BDE0" fill-opacity="0.4" stroke="#74BDE0" stroke-opacity="0.62"/>
<circle cx="1364.5" cy="291.4" r="2.62" fill="#74BDE0" fill-opacity="0.4" stroke="#74BDE0" stroke-opacity="0.62"/>
<circle cx="1364.5" cy="221.7" r="2.62" fill="#74BDE0" fill-opacity="0.4" stroke="#74BDE0" stroke-opacity="0.62"/>
<circle cx="1364.5" cy="287.9" r="2.62" fill="#74BDE0" fill-opacity="0.4" stroke="#74BDE0" stroke-opacity="0.62"/>
<circle cx="1364.5" cy="284.0" r="2.62" fill="#38719D" fill-opacity="0.4" stroke="#38719D" stroke-opacity="0.62"/>
<circle cx="1364.5" cy="318.5" r="2.62" fill="#38719D" fill-opacity="0.4" stroke="#38719D" stroke-opacity="0.62"/>
<circle cx="1364.5" cy="262.4" r="2.62" fill="#74BDE0" fill-opacity="0.4" stroke="#74BDE0" stroke-opacity="0.62"/>
</g>
<polyline points="878.1,609.5 975.4,478.2 1072.7,399.8 1169.9,340.3 1267.2,294.1 1364.5,256.2" fill="none" stroke="#38719D" stroke-width="5.05" stroke-linejoin="round" stroke-linecap="butt"/>
<polyline points="878.1,609.5 975.4,480.8 1072.7,400.8 1169.9,341.5 1267.2,293.9 1364.5,256.1" fill="none" stroke="#74BDE0" stroke-width="5.05" stroke-linejoin="round" stroke-linecap="butt"/>
<circle cx="878.1" cy="609.5" r="7.1" fill="#38719D"/>
<circle cx="975.4" cy="478.2" r="7.1" fill="#38719D"/>
<circle cx="1072.7" cy="399.8" r="7.1" fill="#38719D"/>
<circle cx="1169.9" cy="340.3" r="7.1" fill="#38719D"/>
<circle cx="1267.2" cy="294.1" r="7.1" fill="#38719D"/>
<circle cx="1364.5" cy="256.2" r="7.1" fill="#38719D"/>
<circle cx="878.1" cy="609.5" r="7.1" fill="#74BDE0"/>
<circle cx="975.4" cy="480.8" r="7.1" fill="#74BDE0"/>
<circle cx="1072.7" cy="400.8" r="7.1" fill="#74BDE0"/>
<circle cx="1169.9" cy="341.5" r="7.1" fill="#74BDE0"/>
<circle cx="1267.2" cy="293.9" r="7.1" fill="#74BDE0"/>
<circle cx="1364.5" cy="256.1" r="7.1" fill="#74BDE0"/>
<path d="M842.80 73V636.6M841.15 634.9H1399.2" stroke="#111111" stroke-width="3.3" fill="none"/>
<path d="M834.60 609.50H841.30" stroke="#222" stroke-width="3"/>
<text x="811.62" y="619.90" font-family="Liberation Sans, sans-serif" font-size="27.3" fill="#4D4D4D">0</text>
<path d="M834.60 439.00H841.30" stroke="#222" stroke-width="3"/>
<path transform="translate(796.44 449.40) scale(0.01333 -0.01333)" d="M763 0H583V1147Q518 1085 412.5 1023T223 930V1104Q374 1175 487 1276T647 1472H763Z" fill="#4D4D4D"/><text x="811.62" y="449.40" font-family="Liberation Sans, sans-serif" font-size="27.3" fill="#4D4D4D">0</text>
<path d="M834.60 268.50H841.30" stroke="#222" stroke-width="3"/>
<text x="796.44" y="278.90" font-family="Liberation Sans, sans-serif" font-size="27.3" fill="#4D4D4D">20</text>
<path d="M834.60 98.00H841.30" stroke="#222" stroke-width="3"/>
<text x="796.44" y="108.40" font-family="Liberation Sans, sans-serif" font-size="27.3" fill="#4D4D4D">30</text>
<path d="M878.10 636V643" stroke="#222" stroke-width="3"/>
<text x="859.13" y="670.20" font-family="Liberation Sans, sans-serif" font-size="27.3" fill="#4D4D4D">0.0</text>
<path d="M1072.66 636V643" stroke="#222" stroke-width="3"/>
<text x="1053.69" y="670.20" font-family="Liberation Sans, sans-serif" font-size="27.3" fill="#4D4D4D">0.</text><path transform="translate(1076.45 670.20) scale(0.01333 -0.01333)" d="M763 0H583V1147Q518 1085 412.5 1023T223 930V1104Q374 1175 487 1276T647 1472H763Z" fill="#4D4D4D"/>
<path d="M1267.22 636V643" stroke="#222" stroke-width="3"/>
<text x="1248.25" y="670.20" font-family="Liberation Sans, sans-serif" font-size="27.3" fill="#4D4D4D">0.2</text>
<text x="1120.9" y="707.0" text-anchor="middle" font-family="Liberation Sans, sans-serif" font-size="33.6" fill="#000">Cost</text>
<text transform="translate(781.8 354) rotate(-90)" text-anchor="middle" font-family="Liberation Sans, sans-serif" font-size="34" fill="#000">Mean Weighted Degree (±SEM)</text>
<text x="1197.6" y="539.4" font-family="Liberation Sans, sans-serif" font-size="26" fill="#000">Group</text>
<path d="M1199.5 567.8H1219.7" stroke="#38719D" stroke-width="4"/>
<circle cx="1209.6" cy="568.0" r="5.9" fill="#38719D"/>
<text x="1235.8" y="576.3" font-family="Liberation Sans, sans-serif" font-size="21.2" fill="#000">Cognitive Decline</text>
<path d="M1199.5 593.5H1219.7" stroke="#74BDE0" stroke-width="4"/>
<circle cx="1209.6" cy="593.7" r="5.9" fill="#74BDE0"/>
<text x="1235.8" y="602.0" font-family="Liberation Sans, sans-serif" font-size="21.2" fill="#000">Cognitive Stable</text>
</g>
</svg>
</body></html>
